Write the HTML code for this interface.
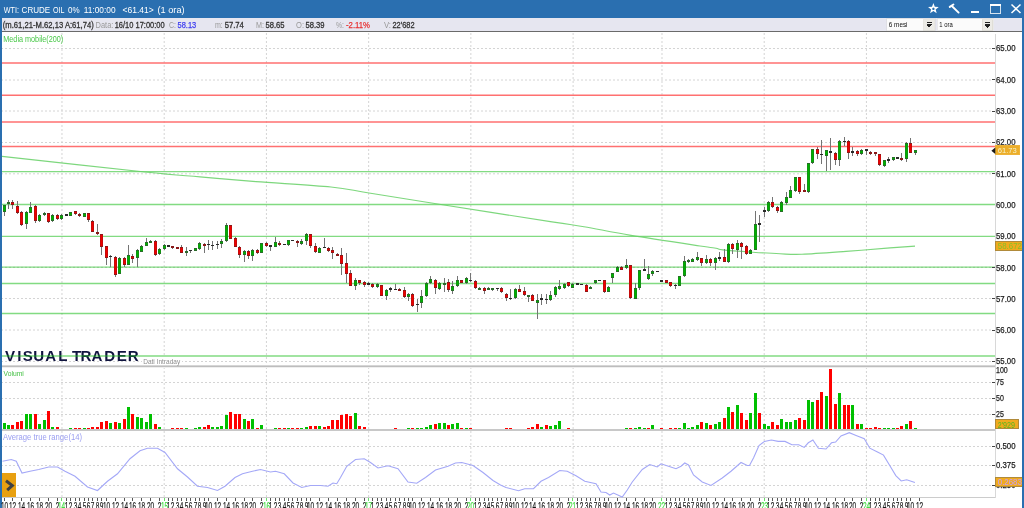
<!DOCTYPE html>
<html><head><meta charset="utf-8"><title>WTI CRUDE OIL - Visual Trader</title>
<style>
html,body{margin:0;padding:0;background:#fff;}
body{width:1024px;height:508px;overflow:hidden;}
svg{display:block;font-family:"Liberation Sans",Arial,sans-serif;}
</style></head><body>
<svg width="1024" height="508" viewBox="0 0 1024 508" shape-rendering="crispEdges">
<rect x="0" y="0" width="1024" height="508" fill="#2a6fb0"/>
<rect x="2" y="18" width="1020" height="490" fill="#ffffff"/>
<rect x="2" y="18" width="1020" height="13" fill="#e6e6f0"/>
<rect x="2" y="31" width="1020" height="1" fill="#6a6a6a"/>
<g shape-rendering="geometricPrecision">
<line x1="61.98" y1="33" x2="61.98" y2="365" stroke="#d4d4d4" stroke-width="1" stroke-dasharray="2,2"/>
<line x1="61.98" y1="367" x2="61.98" y2="429" stroke="#d4d4d4" stroke-width="1" stroke-dasharray="2,2"/>
<line x1="61.98" y1="431" x2="61.98" y2="497" stroke="#d4d4d4" stroke-width="1" stroke-dasharray="2,2"/>
</g>
<g shape-rendering="geometricPrecision">
<line x1="164.2" y1="33" x2="164.2" y2="365" stroke="#d4d4d4" stroke-width="1" stroke-dasharray="2,2"/>
<line x1="164.2" y1="367" x2="164.2" y2="429" stroke="#d4d4d4" stroke-width="1" stroke-dasharray="2,2"/>
<line x1="164.2" y1="431" x2="164.2" y2="497" stroke="#d4d4d4" stroke-width="1" stroke-dasharray="2,2"/>
</g>
<g shape-rendering="geometricPrecision">
<line x1="266.43" y1="33" x2="266.43" y2="365" stroke="#d4d4d4" stroke-width="1" stroke-dasharray="2,2"/>
<line x1="266.43" y1="367" x2="266.43" y2="429" stroke="#d4d4d4" stroke-width="1" stroke-dasharray="2,2"/>
<line x1="266.43" y1="431" x2="266.43" y2="497" stroke="#d4d4d4" stroke-width="1" stroke-dasharray="2,2"/>
</g>
<g shape-rendering="geometricPrecision">
<line x1="368.65" y1="33" x2="368.65" y2="365" stroke="#d4d4d4" stroke-width="1" stroke-dasharray="2,2"/>
<line x1="368.65" y1="367" x2="368.65" y2="429" stroke="#d4d4d4" stroke-width="1" stroke-dasharray="2,2"/>
<line x1="368.65" y1="431" x2="368.65" y2="497" stroke="#d4d4d4" stroke-width="1" stroke-dasharray="2,2"/>
</g>
<g shape-rendering="geometricPrecision">
<line x1="470.87" y1="33" x2="470.87" y2="365" stroke="#d4d4d4" stroke-width="1" stroke-dasharray="2,2"/>
<line x1="470.87" y1="367" x2="470.87" y2="429" stroke="#d4d4d4" stroke-width="1" stroke-dasharray="2,2"/>
<line x1="470.87" y1="431" x2="470.87" y2="497" stroke="#d4d4d4" stroke-width="1" stroke-dasharray="2,2"/>
</g>
<g shape-rendering="geometricPrecision">
<line x1="573.1" y1="33" x2="573.1" y2="365" stroke="#d4d4d4" stroke-width="1" stroke-dasharray="2,2"/>
<line x1="573.1" y1="367" x2="573.1" y2="429" stroke="#d4d4d4" stroke-width="1" stroke-dasharray="2,2"/>
<line x1="573.1" y1="431" x2="573.1" y2="497" stroke="#d4d4d4" stroke-width="1" stroke-dasharray="2,2"/>
</g>
<g shape-rendering="geometricPrecision">
<line x1="661.99" y1="33" x2="661.99" y2="365" stroke="#d4d4d4" stroke-width="1" stroke-dasharray="2,2"/>
<line x1="661.99" y1="367" x2="661.99" y2="429" stroke="#d4d4d4" stroke-width="1" stroke-dasharray="2,2"/>
<line x1="661.99" y1="431" x2="661.99" y2="497" stroke="#d4d4d4" stroke-width="1" stroke-dasharray="2,2"/>
</g>
<g shape-rendering="geometricPrecision">
<line x1="764.21" y1="33" x2="764.21" y2="365" stroke="#d4d4d4" stroke-width="1" stroke-dasharray="2,2"/>
<line x1="764.21" y1="367" x2="764.21" y2="429" stroke="#d4d4d4" stroke-width="1" stroke-dasharray="2,2"/>
<line x1="764.21" y1="431" x2="764.21" y2="497" stroke="#d4d4d4" stroke-width="1" stroke-dasharray="2,2"/>
</g>
<g shape-rendering="geometricPrecision">
<line x1="866.43" y1="33" x2="866.43" y2="365" stroke="#d4d4d4" stroke-width="1" stroke-dasharray="2,2"/>
<line x1="866.43" y1="367" x2="866.43" y2="429" stroke="#d4d4d4" stroke-width="1" stroke-dasharray="2,2"/>
<line x1="866.43" y1="431" x2="866.43" y2="497" stroke="#d4d4d4" stroke-width="1" stroke-dasharray="2,2"/>
</g>
<line x1="2" y1="48.5" x2="992" y2="48.5" stroke="#d4d4d4" stroke-width="1" stroke-dasharray="2,2" stroke-dashoffset="1" shape-rendering="geometricPrecision"/>
<line x1="2" y1="80.0" x2="992" y2="80.0" stroke="#d4d4d4" stroke-width="1" stroke-dasharray="2,2" stroke-dashoffset="1" shape-rendering="geometricPrecision"/>
<line x1="2" y1="111.0" x2="992" y2="111.0" stroke="#d4d4d4" stroke-width="1" stroke-dasharray="2,2" stroke-dashoffset="1" shape-rendering="geometricPrecision"/>
<line x1="2" y1="142.5" x2="992" y2="142.5" stroke="#d4d4d4" stroke-width="1" stroke-dasharray="2,2" stroke-dashoffset="1" shape-rendering="geometricPrecision"/>
<line x1="2" y1="173.8" x2="992" y2="173.8" stroke="#d4d4d4" stroke-width="1" stroke-dasharray="2,2" stroke-dashoffset="1" shape-rendering="geometricPrecision"/>
<line x1="2" y1="267.3" x2="992" y2="267.3" stroke="#d4d4d4" stroke-width="1" stroke-dasharray="2,2" stroke-dashoffset="1" shape-rendering="geometricPrecision"/>
<line x1="2" y1="298.5" x2="992" y2="298.5" stroke="#d4d4d4" stroke-width="1" stroke-dasharray="2,2" stroke-dashoffset="1" shape-rendering="geometricPrecision"/>
<line x1="2" y1="330.0" x2="992" y2="330.0" stroke="#d4d4d4" stroke-width="1" stroke-dasharray="2,2" stroke-dashoffset="1" shape-rendering="geometricPrecision"/>
<line x1="2" y1="361.5" x2="992" y2="361.5" stroke="#d4d4d4" stroke-width="1" stroke-dasharray="2,2" stroke-dashoffset="1" shape-rendering="geometricPrecision"/>
<line x1="2" y1="382.5" x2="992" y2="382.5" stroke="#d4d4d4" stroke-width="1" stroke-dasharray="2,2" stroke-dashoffset="1"/>
<line x1="2" y1="398.5" x2="992" y2="398.5" stroke="#d4d4d4" stroke-width="1" stroke-dasharray="2,2" stroke-dashoffset="1"/>
<line x1="2" y1="414.5" x2="992" y2="414.5" stroke="#d4d4d4" stroke-width="1" stroke-dasharray="2,2" stroke-dashoffset="1"/>
<line x1="2" y1="446.5" x2="992" y2="446.5" stroke="#d4d4d4" stroke-width="1" stroke-dasharray="2,2" stroke-dashoffset="1"/>
<line x1="2" y1="465.5" x2="992" y2="465.5" stroke="#d4d4d4" stroke-width="1" stroke-dasharray="2,2" stroke-dashoffset="1"/>
<line x1="2" y1="485.5" x2="992" y2="485.5" stroke="#d4d4d4" stroke-width="1" stroke-dasharray="2,2" stroke-dashoffset="1"/>
<text x="5.0 17.3 22.8 33.3 45.3 58.3 67 71.9 80.5 91.4 104.3 116.8 127.7" y="361.1" font-size="15.1" font-weight="bold" fill="#10143f">VISUAL TRADER</text>
<line x1="2" y1="63.0" x2="995" y2="63.0" stroke="#ff7070" stroke-width="1.4" shape-rendering="geometricPrecision"/>
<line x1="2" y1="95.3" x2="995" y2="95.3" stroke="#ff7070" stroke-width="1.4" shape-rendering="geometricPrecision"/>
<line x1="2" y1="122.0" x2="995" y2="122.0" stroke="#ff7070" stroke-width="1.4" shape-rendering="geometricPrecision"/>
<line x1="2" y1="146.5" x2="995" y2="146.5" stroke="#ff7070" stroke-width="1.4" shape-rendering="geometricPrecision"/>
<line x1="2" y1="171.6" x2="995" y2="171.6" stroke="#1cbe1c" stroke-opacity="0.55" stroke-width="1.3" shape-rendering="geometricPrecision"/>
<line x1="2" y1="204.5" x2="995" y2="204.5" stroke="#1cbe1c" stroke-opacity="0.55" stroke-width="1.3" shape-rendering="geometricPrecision"/>
<line x1="2" y1="236.3" x2="995" y2="236.3" stroke="#1cbe1c" stroke-opacity="0.55" stroke-width="1.3" shape-rendering="geometricPrecision"/>
<line x1="2" y1="267.2" x2="995" y2="267.2" stroke="#1cbe1c" stroke-opacity="0.55" stroke-width="1.3" shape-rendering="geometricPrecision"/>
<line x1="2" y1="283.5" x2="995" y2="283.5" stroke="#1cbe1c" stroke-opacity="0.55" stroke-width="1.3" shape-rendering="geometricPrecision"/>
<line x1="2" y1="313.5" x2="995" y2="313.5" stroke="#1cbe1c" stroke-opacity="0.55" stroke-width="1.3" shape-rendering="geometricPrecision"/>
<line x1="2" y1="356.0" x2="995" y2="356.0" stroke="#1cbe1c" stroke-opacity="0.55" stroke-width="1.3" shape-rendering="geometricPrecision"/>
<path d="M2.00,156.40 C25.83,159.00 112.00,168.58 145.00,172.00 C178.00,175.42 181.50,175.30 200.00,176.90 C218.50,178.50 234.17,179.92 256.00,181.60 C277.83,183.28 312.17,185.10 331.00,187.00 C349.83,188.90 350.17,190.00 369.00,193.00 C387.83,196.00 413.50,200.18 444.00,205.00 C474.50,209.82 528.67,218.28 552.00,221.90 C575.33,225.53 570.83,224.50 584.00,226.75 C597.17,229.00 611.67,232.19 631.00,235.40 C650.33,238.61 685.83,243.87 700.00,246.00 C714.17,248.13 712.17,247.55 716.00,248.20 C719.83,248.85 716.83,249.23 723.00,249.90 C729.17,250.57 743.50,251.55 753.00,252.20 C762.50,252.85 771.83,253.45 780.00,253.80 C788.17,254.15 791.00,254.70 802.00,254.30 C813.00,253.90 831.33,252.47 846.00,251.40 C860.67,250.33 878.50,248.78 890.00,247.90 C901.50,247.02 910.83,246.40 915.00,246.10" fill="none" stroke="#66d066" stroke-width="1.1" stroke-opacity="0.85" shape-rendering="geometricPrecision"/>
<rect x="4" y="204.63" width="1" height="11.63" fill="#747474"/>
<rect x="3" y="205" width="3" height="7" fill="#2a6a2a"/>
<rect x="3" y="206" width="3" height="5" fill="#00b000"/>
<rect x="3" y="206" width="1" height="5" fill="#2a6a2a" opacity="0.4"/>
<rect x="5" y="206" width="1" height="5" fill="#2a6a2a" opacity="0.4"/>
<rect x="8" y="200.31" width="1" height="8.44" fill="#747474"/>
<rect x="7" y="202" width="3" height="2" fill="#2a6a2a"/>
<rect x="12" y="200.31" width="1" height="8.44" fill="#747474"/>
<rect x="11" y="202" width="3" height="3" fill="#8a1818"/>
<rect x="11" y="203" width="3" height="1" fill="#ee0000"/>
<rect x="11" y="203" width="1" height="1" fill="#8a1818" opacity="0.4"/>
<rect x="13" y="203" width="1" height="1" fill="#8a1818" opacity="0.4"/>
<rect x="17" y="201.25" width="1" height="13.13" fill="#747474"/>
<rect x="16" y="206" width="3" height="7" fill="#8a1818"/>
<rect x="16" y="207" width="3" height="5" fill="#ee0000"/>
<rect x="16" y="207" width="1" height="5" fill="#8a1818" opacity="0.4"/>
<rect x="18" y="207" width="1" height="5" fill="#8a1818" opacity="0.4"/>
<rect x="21" y="210.63" width="1" height="15.38" fill="#747474"/>
<rect x="20" y="212" width="3" height="13" fill="#8a1818"/>
<rect x="20" y="213" width="3" height="11" fill="#ee0000"/>
<rect x="20" y="213" width="1" height="11" fill="#8a1818" opacity="0.4"/>
<rect x="22" y="213" width="1" height="11" fill="#8a1818" opacity="0.4"/>
<rect x="26" y="210.63" width="1" height="18.75" fill="#747474"/>
<rect x="25" y="212" width="3" height="12" fill="#2a6a2a"/>
<rect x="25" y="213" width="3" height="10" fill="#00b000"/>
<rect x="25" y="213" width="1" height="10" fill="#2a6a2a" opacity="0.4"/>
<rect x="27" y="213" width="1" height="10" fill="#2a6a2a" opacity="0.4"/>
<rect x="30" y="201.63" width="1" height="11.81" fill="#747474"/>
<rect x="29" y="207" width="3" height="6" fill="#2a6a2a"/>
<rect x="29" y="208" width="3" height="4" fill="#00b000"/>
<rect x="29" y="208" width="1" height="4" fill="#2a6a2a" opacity="0.4"/>
<rect x="31" y="208" width="1" height="4" fill="#2a6a2a" opacity="0.4"/>
<rect x="35" y="205" width="1" height="17.81" fill="#747474"/>
<rect x="34" y="206" width="3" height="15" fill="#8a1818"/>
<rect x="34" y="207" width="3" height="13" fill="#ee0000"/>
<rect x="34" y="207" width="1" height="13" fill="#8a1818" opacity="0.4"/>
<rect x="36" y="207" width="1" height="13" fill="#8a1818" opacity="0.4"/>
<rect x="39" y="214" width="1" height="7.5" fill="#747474"/>
<rect x="38" y="215" width="3" height="6" fill="#2a6a2a"/>
<rect x="38" y="216" width="3" height="4" fill="#00b000"/>
<rect x="38" y="216" width="1" height="4" fill="#2a6a2a" opacity="0.4"/>
<rect x="40" y="216" width="1" height="4" fill="#2a6a2a" opacity="0.4"/>
<rect x="44" y="211.56" width="1" height="4.69" fill="#747474"/>
<rect x="43" y="213" width="3" height="2" fill="#2a6a2a"/>
<rect x="48" y="212.5" width="1" height="10.31" fill="#747474"/>
<rect x="47" y="213" width="3" height="9" fill="#8a1818"/>
<rect x="47" y="214" width="3" height="7" fill="#ee0000"/>
<rect x="47" y="214" width="1" height="7" fill="#8a1818" opacity="0.4"/>
<rect x="49" y="214" width="1" height="7" fill="#8a1818" opacity="0.4"/>
<rect x="52" y="214.38" width="1" height="7.13" fill="#747474"/>
<rect x="51" y="215" width="3" height="6" fill="#2a6a2a"/>
<rect x="51" y="216" width="3" height="4" fill="#00b000"/>
<rect x="51" y="216" width="1" height="4" fill="#2a6a2a" opacity="0.4"/>
<rect x="53" y="216" width="1" height="4" fill="#2a6a2a" opacity="0.4"/>
<rect x="57" y="214.38" width="1" height="5.63" fill="#747474"/>
<rect x="56" y="215" width="3" height="4" fill="#8a1818"/>
<rect x="56" y="216" width="3" height="2" fill="#ee0000"/>
<rect x="56" y="216" width="1" height="2" fill="#8a1818" opacity="0.4"/>
<rect x="58" y="216" width="1" height="2" fill="#8a1818" opacity="0.4"/>
<rect x="61" y="214" width="1" height="5.63" fill="#747474"/>
<rect x="60" y="215" width="3" height="4" fill="#2a6a2a"/>
<rect x="60" y="216" width="3" height="2" fill="#00b000"/>
<rect x="60" y="216" width="1" height="2" fill="#2a6a2a" opacity="0.4"/>
<rect x="62" y="216" width="1" height="2" fill="#2a6a2a" opacity="0.4"/>
<rect x="66" y="214.38" width="1" height="1.5" fill="#747474"/>
<rect x="65" y="214.47" width="3" height="1.5" fill="#2a2a2a"/>
<rect x="70" y="211.56" width="1" height="4.69" fill="#747474"/>
<rect x="69" y="212" width="3" height="4" fill="#2a6a2a"/>
<rect x="69" y="213" width="3" height="2" fill="#00b000"/>
<rect x="69" y="213" width="1" height="2" fill="#2a6a2a" opacity="0.4"/>
<rect x="71" y="213" width="1" height="2" fill="#2a6a2a" opacity="0.4"/>
<rect x="75" y="210.63" width="1" height="4.31" fill="#747474"/>
<rect x="74" y="211" width="3" height="3" fill="#8a1818"/>
<rect x="74" y="212" width="3" height="1" fill="#ee0000"/>
<rect x="74" y="212" width="1" height="1" fill="#8a1818" opacity="0.4"/>
<rect x="76" y="212" width="1" height="1" fill="#8a1818" opacity="0.4"/>
<rect x="79" y="213.25" width="1" height="3.38" fill="#747474"/>
<rect x="78" y="214" width="3" height="2" fill="#8a1818"/>
<rect x="84" y="212.88" width="1" height="4.13" fill="#747474"/>
<rect x="83" y="213" width="3" height="4" fill="#2a6a2a"/>
<rect x="83" y="214" width="3" height="2" fill="#00b000"/>
<rect x="83" y="214" width="1" height="2" fill="#2a6a2a" opacity="0.4"/>
<rect x="85" y="214" width="1" height="2" fill="#2a6a2a" opacity="0.4"/>
<rect x="88" y="212.5" width="1" height="9.75" fill="#747474"/>
<rect x="87" y="213" width="3" height="7" fill="#8a1818"/>
<rect x="87" y="214" width="3" height="5" fill="#ee0000"/>
<rect x="87" y="214" width="1" height="5" fill="#8a1818" opacity="0.4"/>
<rect x="89" y="214" width="1" height="5" fill="#8a1818" opacity="0.4"/>
<rect x="92" y="220" width="1" height="12.19" fill="#747474"/>
<rect x="91" y="221" width="3" height="11" fill="#8a1818"/>
<rect x="91" y="222" width="3" height="9" fill="#ee0000"/>
<rect x="91" y="222" width="1" height="9" fill="#8a1818" opacity="0.4"/>
<rect x="93" y="222" width="1" height="9" fill="#8a1818" opacity="0.4"/>
<rect x="97" y="224.13" width="1" height="11.25" fill="#747474"/>
<rect x="96" y="232" width="3" height="2" fill="#8a1818"/>
<rect x="101" y="233.5" width="1" height="21.19" fill="#747474"/>
<rect x="100" y="234" width="3" height="13" fill="#8a1818"/>
<rect x="100" y="235" width="3" height="11" fill="#ee0000"/>
<rect x="100" y="235" width="1" height="11" fill="#8a1818" opacity="0.4"/>
<rect x="102" y="235" width="1" height="11" fill="#8a1818" opacity="0.4"/>
<rect x="106" y="245.88" width="1" height="19.13" fill="#747474"/>
<rect x="105" y="246" width="3" height="12" fill="#8a1818"/>
<rect x="105" y="247" width="3" height="10" fill="#ee0000"/>
<rect x="105" y="247" width="1" height="10" fill="#8a1818" opacity="0.4"/>
<rect x="107" y="247" width="1" height="10" fill="#8a1818" opacity="0.4"/>
<rect x="110" y="255.25" width="1" height="11.25" fill="#747474"/>
<rect x="109" y="255.82" width="3" height="1.5" fill="#2a2a2a"/>
<rect x="115" y="255.63" width="1" height="21.56" fill="#747474"/>
<rect x="114" y="257" width="3" height="18" fill="#8a1818"/>
<rect x="114" y="258" width="3" height="16" fill="#ee0000"/>
<rect x="114" y="258" width="1" height="16" fill="#8a1818" opacity="0.4"/>
<rect x="116" y="258" width="1" height="16" fill="#8a1818" opacity="0.4"/>
<rect x="119" y="256.57" width="1" height="17.81" fill="#747474"/>
<rect x="118" y="258" width="3" height="16" fill="#2a6a2a"/>
<rect x="118" y="259" width="3" height="14" fill="#00b000"/>
<rect x="118" y="259" width="1" height="14" fill="#2a6a2a" opacity="0.4"/>
<rect x="120" y="259" width="1" height="14" fill="#2a6a2a" opacity="0.4"/>
<rect x="124" y="256.57" width="1" height="10.31" fill="#747474"/>
<rect x="123" y="258" width="3" height="7" fill="#8a1818"/>
<rect x="123" y="259" width="3" height="5" fill="#ee0000"/>
<rect x="123" y="259" width="1" height="5" fill="#8a1818" opacity="0.4"/>
<rect x="125" y="259" width="1" height="5" fill="#8a1818" opacity="0.4"/>
<rect x="128" y="244.75" width="1" height="20.25" fill="#747474"/>
<rect x="127" y="255" width="3" height="10" fill="#2a6a2a"/>
<rect x="127" y="256" width="3" height="8" fill="#00b000"/>
<rect x="127" y="256" width="1" height="8" fill="#2a6a2a" opacity="0.4"/>
<rect x="129" y="256" width="1" height="8" fill="#2a6a2a" opacity="0.4"/>
<rect x="132" y="253.75" width="1" height="9.38" fill="#747474"/>
<rect x="131" y="256" width="3" height="3" fill="#8a1818"/>
<rect x="131" y="257" width="3" height="1" fill="#ee0000"/>
<rect x="131" y="257" width="1" height="1" fill="#8a1818" opacity="0.4"/>
<rect x="133" y="257" width="1" height="1" fill="#8a1818" opacity="0.4"/>
<rect x="137" y="249.07" width="1" height="17.81" fill="#747474"/>
<rect x="136" y="250" width="3" height="8" fill="#2a6a2a"/>
<rect x="136" y="251" width="3" height="6" fill="#00b000"/>
<rect x="136" y="251" width="1" height="6" fill="#2a6a2a" opacity="0.4"/>
<rect x="138" y="251" width="1" height="6" fill="#2a6a2a" opacity="0.4"/>
<rect x="141" y="244.75" width="1" height="7.5" fill="#747474"/>
<rect x="140" y="246" width="3" height="6" fill="#2a6a2a"/>
<rect x="140" y="247" width="3" height="4" fill="#00b000"/>
<rect x="140" y="247" width="1" height="4" fill="#2a6a2a" opacity="0.4"/>
<rect x="142" y="247" width="1" height="4" fill="#2a6a2a" opacity="0.4"/>
<rect x="146" y="237.82" width="1" height="8.44" fill="#747474"/>
<rect x="145" y="242" width="3" height="4" fill="#2a6a2a"/>
<rect x="145" y="243" width="3" height="2" fill="#00b000"/>
<rect x="145" y="243" width="1" height="2" fill="#2a6a2a" opacity="0.4"/>
<rect x="147" y="243" width="1" height="2" fill="#2a6a2a" opacity="0.4"/>
<rect x="150" y="240.25" width="1" height="2.63" fill="#747474"/>
<rect x="149" y="241" width="3" height="2" fill="#2a6a2a"/>
<rect x="155" y="240.25" width="1" height="15.75" fill="#747474"/>
<rect x="154" y="241" width="3" height="14" fill="#8a1818"/>
<rect x="154" y="242" width="3" height="12" fill="#ee0000"/>
<rect x="154" y="242" width="1" height="12" fill="#8a1818" opacity="0.4"/>
<rect x="156" y="242" width="1" height="12" fill="#8a1818" opacity="0.4"/>
<rect x="159" y="248.13" width="1" height="6.56" fill="#747474"/>
<rect x="158" y="249" width="3" height="5" fill="#2a6a2a"/>
<rect x="158" y="250" width="3" height="3" fill="#00b000"/>
<rect x="158" y="250" width="1" height="3" fill="#2a6a2a" opacity="0.4"/>
<rect x="160" y="250" width="1" height="3" fill="#2a6a2a" opacity="0.4"/>
<rect x="164" y="244.38" width="1" height="5.25" fill="#747474"/>
<rect x="163" y="245" width="3" height="4" fill="#2a6a2a"/>
<rect x="163" y="246" width="3" height="2" fill="#00b000"/>
<rect x="163" y="246" width="1" height="2" fill="#2a6a2a" opacity="0.4"/>
<rect x="165" y="246" width="1" height="2" fill="#2a6a2a" opacity="0.4"/>
<rect x="168" y="245.13" width="1" height="1.5" fill="#747474"/>
<rect x="167" y="245.13" width="3" height="1.5" fill="#2a2a2a"/>
<rect x="172" y="245.88" width="1" height="2.63" fill="#747474"/>
<rect x="171" y="246" width="3" height="2" fill="#8a1818"/>
<rect x="177" y="247" width="1" height="1.88" fill="#747474"/>
<rect x="176" y="247" width="3" height="2" fill="#8a1818"/>
<rect x="181" y="245.32" width="1" height="8.06" fill="#747474"/>
<rect x="180" y="247" width="3" height="6" fill="#8a1818"/>
<rect x="180" y="248" width="3" height="4" fill="#ee0000"/>
<rect x="180" y="248" width="1" height="4" fill="#8a1818" opacity="0.4"/>
<rect x="182" y="248" width="1" height="4" fill="#8a1818" opacity="0.4"/>
<rect x="186" y="247.25" width="1" height="9" fill="#747474"/>
<rect x="185" y="251" width="3" height="2" fill="#2a6a2a"/>
<rect x="190" y="249.69" width="1" height="2.81" fill="#747474"/>
<rect x="189" y="249.88" width="3" height="1.5" fill="#2a2a2a"/>
<rect x="195" y="247.81" width="1" height="3.38" fill="#747474"/>
<rect x="194" y="248" width="3" height="3" fill="#2a6a2a"/>
<rect x="194" y="249" width="3" height="1" fill="#00b000"/>
<rect x="194" y="249" width="1" height="1" fill="#2a6a2a" opacity="0.4"/>
<rect x="196" y="249" width="1" height="1" fill="#2a6a2a" opacity="0.4"/>
<rect x="199" y="241.81" width="1" height="7.88" fill="#747474"/>
<rect x="198" y="243" width="3" height="6" fill="#2a6a2a"/>
<rect x="198" y="244" width="3" height="4" fill="#00b000"/>
<rect x="198" y="244" width="1" height="4" fill="#2a6a2a" opacity="0.4"/>
<rect x="200" y="244" width="1" height="4" fill="#2a6a2a" opacity="0.4"/>
<rect x="204" y="243.13" width="1" height="9.38" fill="#747474"/>
<rect x="203" y="244" width="3" height="2" fill="#8a1818"/>
<rect x="208" y="239.94" width="1" height="9.75" fill="#747474"/>
<rect x="207" y="243.97" width="3" height="1.5" fill="#2a2a2a"/>
<rect x="212" y="241.25" width="1" height="8.44" fill="#747474"/>
<rect x="211" y="244.53" width="3" height="1.5" fill="#2a2a2a"/>
<rect x="217" y="241.25" width="1" height="7.5" fill="#747474"/>
<rect x="216" y="243.78" width="3" height="1.5" fill="#2a2a2a"/>
<rect x="221" y="239.38" width="1" height="8.44" fill="#747474"/>
<rect x="220" y="241" width="3" height="3" fill="#2a6a2a"/>
<rect x="220" y="242" width="3" height="1" fill="#00b000"/>
<rect x="220" y="242" width="1" height="1" fill="#2a6a2a" opacity="0.4"/>
<rect x="222" y="242" width="1" height="1" fill="#2a6a2a" opacity="0.4"/>
<rect x="226" y="223.44" width="1" height="18.75" fill="#747474"/>
<rect x="225" y="225" width="3" height="16" fill="#2a6a2a"/>
<rect x="225" y="226" width="3" height="14" fill="#00b000"/>
<rect x="225" y="226" width="1" height="14" fill="#2a6a2a" opacity="0.4"/>
<rect x="227" y="226" width="1" height="14" fill="#2a6a2a" opacity="0.4"/>
<rect x="230" y="224.75" width="1" height="14.63" fill="#747474"/>
<rect x="229" y="225" width="3" height="14" fill="#8a1818"/>
<rect x="229" y="226" width="3" height="12" fill="#ee0000"/>
<rect x="229" y="226" width="1" height="12" fill="#8a1818" opacity="0.4"/>
<rect x="231" y="226" width="1" height="12" fill="#8a1818" opacity="0.4"/>
<rect x="235" y="237.13" width="1" height="10.13" fill="#747474"/>
<rect x="234" y="238" width="3" height="9" fill="#8a1818"/>
<rect x="234" y="239" width="3" height="7" fill="#ee0000"/>
<rect x="234" y="239" width="1" height="7" fill="#8a1818" opacity="0.4"/>
<rect x="236" y="239" width="1" height="7" fill="#8a1818" opacity="0.4"/>
<rect x="239" y="245.94" width="1" height="12.19" fill="#747474"/>
<rect x="238" y="247" width="3" height="8" fill="#8a1818"/>
<rect x="238" y="248" width="3" height="6" fill="#ee0000"/>
<rect x="238" y="248" width="1" height="6" fill="#8a1818" opacity="0.4"/>
<rect x="240" y="248" width="1" height="6" fill="#8a1818" opacity="0.4"/>
<rect x="244" y="249.69" width="1" height="11.81" fill="#747474"/>
<rect x="243" y="251" width="3" height="4" fill="#2a6a2a"/>
<rect x="243" y="252" width="3" height="2" fill="#00b000"/>
<rect x="243" y="252" width="1" height="2" fill="#2a6a2a" opacity="0.4"/>
<rect x="245" y="252" width="1" height="2" fill="#2a6a2a" opacity="0.4"/>
<rect x="248" y="249.69" width="1" height="9.38" fill="#747474"/>
<rect x="247" y="251" width="3" height="5" fill="#8a1818"/>
<rect x="247" y="252" width="3" height="3" fill="#ee0000"/>
<rect x="247" y="252" width="1" height="3" fill="#8a1818" opacity="0.4"/>
<rect x="249" y="252" width="1" height="3" fill="#8a1818" opacity="0.4"/>
<rect x="252" y="249.13" width="1" height="11.81" fill="#747474"/>
<rect x="251" y="250" width="3" height="6" fill="#2a6a2a"/>
<rect x="251" y="251" width="3" height="4" fill="#00b000"/>
<rect x="251" y="251" width="1" height="4" fill="#2a6a2a" opacity="0.4"/>
<rect x="253" y="251" width="1" height="4" fill="#2a6a2a" opacity="0.4"/>
<rect x="257" y="248.75" width="1" height="5.25" fill="#747474"/>
<rect x="256" y="250" width="3" height="3" fill="#8a1818"/>
<rect x="256" y="251" width="3" height="1" fill="#ee0000"/>
<rect x="256" y="251" width="1" height="1" fill="#8a1818" opacity="0.4"/>
<rect x="258" y="251" width="1" height="1" fill="#8a1818" opacity="0.4"/>
<rect x="261" y="242.75" width="1" height="10.31" fill="#747474"/>
<rect x="260" y="243" width="3" height="10" fill="#2a6a2a"/>
<rect x="260" y="244" width="3" height="8" fill="#00b000"/>
<rect x="260" y="244" width="1" height="8" fill="#2a6a2a" opacity="0.4"/>
<rect x="262" y="244" width="1" height="8" fill="#2a6a2a" opacity="0.4"/>
<rect x="266" y="241.81" width="1" height="5.06" fill="#747474"/>
<rect x="265" y="243" width="3" height="3" fill="#8a1818"/>
<rect x="265" y="244" width="3" height="1" fill="#ee0000"/>
<rect x="265" y="244" width="1" height="1" fill="#8a1818" opacity="0.4"/>
<rect x="267" y="244" width="1" height="1" fill="#8a1818" opacity="0.4"/>
<rect x="270" y="245" width="1" height="5.63" fill="#747474"/>
<rect x="269" y="245.19" width="3" height="1.5" fill="#2a2a2a"/>
<rect x="275" y="236.56" width="1" height="10.31" fill="#747474"/>
<rect x="274" y="242" width="3" height="5" fill="#2a6a2a"/>
<rect x="274" y="243" width="3" height="3" fill="#00b000"/>
<rect x="274" y="243" width="1" height="3" fill="#2a6a2a" opacity="0.4"/>
<rect x="276" y="243" width="1" height="3" fill="#2a6a2a" opacity="0.4"/>
<rect x="279" y="240.88" width="1" height="5.06" fill="#747474"/>
<rect x="278" y="243" width="3" height="2" fill="#8a1818"/>
<rect x="284" y="244.06" width="1" height="1.31" fill="#747474"/>
<rect x="283" y="243.97" width="3" height="1.5" fill="#2a2a2a"/>
<rect x="288" y="239.75" width="1" height="6.19" fill="#747474"/>
<rect x="287" y="240" width="3" height="5" fill="#2a6a2a"/>
<rect x="287" y="241" width="3" height="3" fill="#00b000"/>
<rect x="287" y="241" width="1" height="3" fill="#2a6a2a" opacity="0.4"/>
<rect x="289" y="241" width="1" height="3" fill="#2a6a2a" opacity="0.4"/>
<rect x="292" y="239.94" width="1" height="1.31" fill="#747474"/>
<rect x="291" y="239.85" width="3" height="1.5" fill="#2a2a2a"/>
<rect x="297" y="240.31" width="1" height="6.19" fill="#747474"/>
<rect x="296" y="241" width="3" height="2" fill="#8a1818"/>
<rect x="301" y="239" width="1" height="6" fill="#747474"/>
<rect x="300" y="241" width="3" height="3" fill="#2a6a2a"/>
<rect x="300" y="242" width="3" height="1" fill="#00b000"/>
<rect x="300" y="242" width="1" height="1" fill="#2a6a2a" opacity="0.4"/>
<rect x="302" y="242" width="1" height="1" fill="#2a6a2a" opacity="0.4"/>
<rect x="306" y="233.38" width="1" height="11.63" fill="#747474"/>
<rect x="305" y="234" width="3" height="7" fill="#2a6a2a"/>
<rect x="305" y="235" width="3" height="5" fill="#00b000"/>
<rect x="305" y="235" width="1" height="5" fill="#2a6a2a" opacity="0.4"/>
<rect x="307" y="235" width="1" height="5" fill="#2a6a2a" opacity="0.4"/>
<rect x="310" y="233.75" width="1" height="14.63" fill="#747474"/>
<rect x="309" y="234" width="3" height="12" fill="#8a1818"/>
<rect x="309" y="235" width="3" height="10" fill="#ee0000"/>
<rect x="309" y="235" width="1" height="10" fill="#8a1818" opacity="0.4"/>
<rect x="311" y="235" width="1" height="10" fill="#8a1818" opacity="0.4"/>
<rect x="315" y="243.13" width="1" height="9.94" fill="#747474"/>
<rect x="314" y="246" width="3" height="6" fill="#8a1818"/>
<rect x="314" y="247" width="3" height="4" fill="#ee0000"/>
<rect x="314" y="247" width="1" height="4" fill="#8a1818" opacity="0.4"/>
<rect x="316" y="247" width="1" height="4" fill="#8a1818" opacity="0.4"/>
<rect x="319" y="247.25" width="1" height="5.81" fill="#747474"/>
<rect x="318" y="248" width="3" height="5" fill="#2a6a2a"/>
<rect x="318" y="249" width="3" height="3" fill="#00b000"/>
<rect x="318" y="249" width="1" height="3" fill="#2a6a2a" opacity="0.4"/>
<rect x="320" y="249" width="1" height="3" fill="#2a6a2a" opacity="0.4"/>
<rect x="324" y="238.44" width="1" height="9.94" fill="#747474"/>
<rect x="323" y="246.6" width="3" height="1.5" fill="#2a2a2a"/>
<rect x="328" y="246.88" width="1" height="4.69" fill="#747474"/>
<rect x="327" y="248" width="3" height="3" fill="#8a1818"/>
<rect x="327" y="249" width="3" height="1" fill="#ee0000"/>
<rect x="327" y="249" width="1" height="1" fill="#8a1818" opacity="0.4"/>
<rect x="329" y="249" width="1" height="1" fill="#8a1818" opacity="0.4"/>
<rect x="332" y="246.88" width="1" height="12.19" fill="#747474"/>
<rect x="331" y="250" width="3" height="3" fill="#8a1818"/>
<rect x="331" y="251" width="3" height="1" fill="#ee0000"/>
<rect x="331" y="251" width="1" height="1" fill="#8a1818" opacity="0.4"/>
<rect x="333" y="251" width="1" height="1" fill="#8a1818" opacity="0.4"/>
<rect x="337" y="253.44" width="1" height="2.81" fill="#747474"/>
<rect x="336" y="254" width="3" height="2" fill="#8a1818"/>
<rect x="341" y="247.81" width="1" height="27.19" fill="#747474"/>
<rect x="340" y="255" width="3" height="9" fill="#8a1818"/>
<rect x="340" y="256" width="3" height="7" fill="#ee0000"/>
<rect x="340" y="256" width="1" height="7" fill="#8a1818" opacity="0.4"/>
<rect x="342" y="256" width="1" height="7" fill="#8a1818" opacity="0.4"/>
<rect x="346" y="253.44" width="1" height="29.44" fill="#747474"/>
<rect x="345" y="263" width="3" height="11" fill="#8a1818"/>
<rect x="345" y="264" width="3" height="9" fill="#ee0000"/>
<rect x="345" y="264" width="1" height="9" fill="#8a1818" opacity="0.4"/>
<rect x="347" y="264" width="1" height="9" fill="#8a1818" opacity="0.4"/>
<rect x="350" y="270.32" width="1" height="15.94" fill="#747474"/>
<rect x="349" y="273" width="3" height="13" fill="#8a1818"/>
<rect x="349" y="274" width="3" height="11" fill="#ee0000"/>
<rect x="349" y="274" width="1" height="11" fill="#8a1818" opacity="0.4"/>
<rect x="351" y="274" width="1" height="11" fill="#8a1818" opacity="0.4"/>
<rect x="355" y="277.82" width="1" height="12.56" fill="#747474"/>
<rect x="354" y="280" width="3" height="6" fill="#2a6a2a"/>
<rect x="354" y="281" width="3" height="4" fill="#00b000"/>
<rect x="354" y="281" width="1" height="4" fill="#2a6a2a" opacity="0.4"/>
<rect x="356" y="281" width="1" height="4" fill="#2a6a2a" opacity="0.4"/>
<rect x="359" y="279.69" width="1" height="5.06" fill="#747474"/>
<rect x="358" y="280" width="3" height="3" fill="#8a1818"/>
<rect x="358" y="281" width="3" height="1" fill="#ee0000"/>
<rect x="358" y="281" width="1" height="1" fill="#8a1818" opacity="0.4"/>
<rect x="360" y="281" width="1" height="1" fill="#8a1818" opacity="0.4"/>
<rect x="364" y="280.63" width="1" height="6.56" fill="#747474"/>
<rect x="363" y="282" width="3" height="3" fill="#8a1818"/>
<rect x="363" y="283" width="3" height="1" fill="#ee0000"/>
<rect x="363" y="283" width="1" height="1" fill="#8a1818" opacity="0.4"/>
<rect x="365" y="283" width="1" height="1" fill="#8a1818" opacity="0.4"/>
<rect x="368" y="282.13" width="1" height="3.19" fill="#747474"/>
<rect x="367" y="283.16" width="3" height="1.5" fill="#2a2a2a"/>
<rect x="372" y="283.38" width="1" height="4.13" fill="#747474"/>
<rect x="371" y="284" width="3" height="3" fill="#8a1818"/>
<rect x="371" y="285" width="3" height="1" fill="#ee0000"/>
<rect x="371" y="285" width="1" height="1" fill="#8a1818" opacity="0.4"/>
<rect x="373" y="285" width="1" height="1" fill="#8a1818" opacity="0.4"/>
<rect x="377" y="283.38" width="1" height="4.69" fill="#747474"/>
<rect x="376" y="284" width="3" height="3" fill="#2a6a2a"/>
<rect x="376" y="285" width="3" height="1" fill="#00b000"/>
<rect x="376" y="285" width="1" height="1" fill="#2a6a2a" opacity="0.4"/>
<rect x="378" y="285" width="1" height="1" fill="#2a6a2a" opacity="0.4"/>
<rect x="381" y="284.69" width="1" height="11.25" fill="#747474"/>
<rect x="380" y="285" width="3" height="11" fill="#8a1818"/>
<rect x="380" y="286" width="3" height="9" fill="#ee0000"/>
<rect x="380" y="286" width="1" height="9" fill="#8a1818" opacity="0.4"/>
<rect x="382" y="286" width="1" height="9" fill="#8a1818" opacity="0.4"/>
<rect x="386" y="289.38" width="1" height="10.31" fill="#747474"/>
<rect x="385" y="290" width="3" height="6" fill="#2a6a2a"/>
<rect x="385" y="291" width="3" height="4" fill="#00b000"/>
<rect x="385" y="291" width="1" height="4" fill="#2a6a2a" opacity="0.4"/>
<rect x="387" y="291" width="1" height="4" fill="#2a6a2a" opacity="0.4"/>
<rect x="390" y="287.13" width="1" height="5.06" fill="#747474"/>
<rect x="389" y="288.35" width="3" height="1.5" fill="#2a2a2a"/>
<rect x="395" y="283.75" width="1" height="6.56" fill="#747474"/>
<rect x="394" y="288.53" width="3" height="1.5" fill="#2a2a2a"/>
<rect x="399" y="288.44" width="1" height="2.44" fill="#747474"/>
<rect x="398" y="289" width="3" height="2" fill="#8a1818"/>
<rect x="404" y="286.56" width="1" height="11.25" fill="#747474"/>
<rect x="403" y="290" width="3" height="7" fill="#8a1818"/>
<rect x="403" y="291" width="3" height="5" fill="#ee0000"/>
<rect x="403" y="291" width="1" height="5" fill="#8a1818" opacity="0.4"/>
<rect x="405" y="291" width="1" height="5" fill="#8a1818" opacity="0.4"/>
<rect x="408" y="292.75" width="1" height="7.88" fill="#747474"/>
<rect x="407" y="294" width="3" height="3" fill="#2a6a2a"/>
<rect x="407" y="295" width="3" height="1" fill="#00b000"/>
<rect x="407" y="295" width="1" height="1" fill="#2a6a2a" opacity="0.4"/>
<rect x="409" y="295" width="1" height="1" fill="#2a6a2a" opacity="0.4"/>
<rect x="412" y="293.13" width="1" height="14.06" fill="#747474"/>
<rect x="411" y="294" width="3" height="12" fill="#8a1818"/>
<rect x="411" y="295" width="3" height="10" fill="#ee0000"/>
<rect x="411" y="295" width="1" height="10" fill="#8a1818" opacity="0.4"/>
<rect x="413" y="295" width="1" height="10" fill="#8a1818" opacity="0.4"/>
<rect x="417" y="299.13" width="1" height="12.75" fill="#747474"/>
<rect x="416" y="303.63" width="3" height="1.5" fill="#2a2a2a"/>
<rect x="421" y="290.32" width="1" height="17.44" fill="#747474"/>
<rect x="420" y="296" width="3" height="7" fill="#2a6a2a"/>
<rect x="420" y="297" width="3" height="5" fill="#00b000"/>
<rect x="420" y="297" width="1" height="5" fill="#2a6a2a" opacity="0.4"/>
<rect x="422" y="297" width="1" height="5" fill="#2a6a2a" opacity="0.4"/>
<rect x="426" y="282.25" width="1" height="14.25" fill="#747474"/>
<rect x="425" y="283" width="3" height="13" fill="#2a6a2a"/>
<rect x="425" y="284" width="3" height="11" fill="#00b000"/>
<rect x="425" y="284" width="1" height="11" fill="#2a6a2a" opacity="0.4"/>
<rect x="427" y="284" width="1" height="11" fill="#2a6a2a" opacity="0.4"/>
<rect x="430" y="276.25" width="1" height="7.88" fill="#747474"/>
<rect x="429" y="279" width="3" height="4" fill="#2a6a2a"/>
<rect x="429" y="280" width="3" height="2" fill="#00b000"/>
<rect x="429" y="280" width="1" height="2" fill="#2a6a2a" opacity="0.4"/>
<rect x="431" y="280" width="1" height="2" fill="#2a6a2a" opacity="0.4"/>
<rect x="435" y="279.06" width="1" height="14.44" fill="#747474"/>
<rect x="434" y="280" width="3" height="8" fill="#8a1818"/>
<rect x="434" y="281" width="3" height="6" fill="#ee0000"/>
<rect x="434" y="281" width="1" height="6" fill="#8a1818" opacity="0.4"/>
<rect x="436" y="281" width="1" height="6" fill="#8a1818" opacity="0.4"/>
<rect x="439" y="281.88" width="1" height="8.44" fill="#747474"/>
<rect x="438" y="283" width="3" height="6" fill="#2a6a2a"/>
<rect x="438" y="284" width="3" height="4" fill="#00b000"/>
<rect x="438" y="284" width="1" height="4" fill="#2a6a2a" opacity="0.4"/>
<rect x="440" y="284" width="1" height="4" fill="#2a6a2a" opacity="0.4"/>
<rect x="444" y="278.13" width="1" height="13.5" fill="#747474"/>
<rect x="443" y="283" width="3" height="2" fill="#2a6a2a"/>
<rect x="448" y="279.06" width="1" height="12.56" fill="#747474"/>
<rect x="447" y="282" width="3" height="8" fill="#8a1818"/>
<rect x="447" y="283" width="3" height="6" fill="#ee0000"/>
<rect x="447" y="283" width="1" height="6" fill="#8a1818" opacity="0.4"/>
<rect x="449" y="283" width="1" height="6" fill="#8a1818" opacity="0.4"/>
<rect x="452" y="280.94" width="1" height="12.75" fill="#747474"/>
<rect x="451" y="286" width="3" height="5" fill="#2a6a2a"/>
<rect x="451" y="287" width="3" height="3" fill="#00b000"/>
<rect x="451" y="287" width="1" height="3" fill="#2a6a2a" opacity="0.4"/>
<rect x="453" y="287" width="1" height="3" fill="#2a6a2a" opacity="0.4"/>
<rect x="457" y="276.25" width="1" height="10.31" fill="#747474"/>
<rect x="456" y="280" width="3" height="6" fill="#2a6a2a"/>
<rect x="456" y="281" width="3" height="4" fill="#00b000"/>
<rect x="456" y="281" width="1" height="4" fill="#2a6a2a" opacity="0.4"/>
<rect x="458" y="281" width="1" height="4" fill="#2a6a2a" opacity="0.4"/>
<rect x="461" y="279.63" width="1" height="3.75" fill="#747474"/>
<rect x="460" y="280" width="3" height="3" fill="#8a1818"/>
<rect x="460" y="281" width="3" height="1" fill="#ee0000"/>
<rect x="460" y="281" width="1" height="1" fill="#8a1818" opacity="0.4"/>
<rect x="462" y="281" width="1" height="1" fill="#8a1818" opacity="0.4"/>
<rect x="466" y="276.81" width="1" height="6.94" fill="#747474"/>
<rect x="465" y="278" width="3" height="5" fill="#2a6a2a"/>
<rect x="465" y="279" width="3" height="3" fill="#00b000"/>
<rect x="465" y="279" width="1" height="3" fill="#2a6a2a" opacity="0.4"/>
<rect x="467" y="279" width="1" height="3" fill="#2a6a2a" opacity="0.4"/>
<rect x="470" y="273.44" width="1" height="8.44" fill="#747474"/>
<rect x="469" y="279.72" width="3" height="1.5" fill="#2a2a2a"/>
<rect x="475" y="280" width="1" height="9" fill="#747474"/>
<rect x="474" y="281" width="3" height="7" fill="#8a1818"/>
<rect x="474" y="282" width="3" height="5" fill="#ee0000"/>
<rect x="474" y="282" width="1" height="5" fill="#8a1818" opacity="0.4"/>
<rect x="476" y="282" width="1" height="5" fill="#8a1818" opacity="0.4"/>
<rect x="479" y="286.56" width="1" height="3.19" fill="#747474"/>
<rect x="478" y="288" width="3" height="2" fill="#2a6a2a"/>
<rect x="484" y="286.56" width="1" height="6.94" fill="#747474"/>
<rect x="483" y="288" width="3" height="3" fill="#8a1818"/>
<rect x="483" y="289" width="3" height="1" fill="#ee0000"/>
<rect x="483" y="289" width="1" height="1" fill="#8a1818" opacity="0.4"/>
<rect x="485" y="289" width="1" height="1" fill="#8a1818" opacity="0.4"/>
<rect x="488" y="287.13" width="1" height="1.69" fill="#747474"/>
<rect x="487" y="288" width="3" height="2" fill="#2a6a2a"/>
<rect x="492" y="288.06" width="1" height="2.63" fill="#747474"/>
<rect x="491" y="288" width="3" height="2" fill="#2a6a2a"/>
<rect x="497" y="288.06" width="1" height="2.63" fill="#747474"/>
<rect x="496" y="287.69" width="3" height="1.5" fill="#2a2a2a"/>
<rect x="501" y="287.13" width="1" height="5.63" fill="#747474"/>
<rect x="500" y="288" width="3" height="4" fill="#8a1818"/>
<rect x="500" y="289" width="3" height="2" fill="#ee0000"/>
<rect x="500" y="289" width="1" height="2" fill="#8a1818" opacity="0.4"/>
<rect x="502" y="289" width="1" height="2" fill="#8a1818" opacity="0.4"/>
<rect x="506" y="293.13" width="1" height="7.5" fill="#747474"/>
<rect x="505" y="294" width="3" height="4" fill="#8a1818"/>
<rect x="505" y="295" width="3" height="2" fill="#ee0000"/>
<rect x="505" y="295" width="1" height="2" fill="#8a1818" opacity="0.4"/>
<rect x="507" y="295" width="1" height="2" fill="#8a1818" opacity="0.4"/>
<rect x="510" y="289.38" width="1" height="10.31" fill="#747474"/>
<rect x="509" y="297.53" width="3" height="1.5" fill="#2a2a2a"/>
<rect x="515" y="288.44" width="1" height="10.31" fill="#747474"/>
<rect x="514" y="289" width="3" height="9" fill="#2a6a2a"/>
<rect x="514" y="290" width="3" height="7" fill="#00b000"/>
<rect x="514" y="290" width="1" height="7" fill="#2a6a2a" opacity="0.4"/>
<rect x="516" y="290" width="1" height="7" fill="#2a6a2a" opacity="0.4"/>
<rect x="519" y="285.25" width="1" height="6.94" fill="#747474"/>
<rect x="518" y="289" width="3" height="3" fill="#8a1818"/>
<rect x="518" y="290" width="3" height="1" fill="#ee0000"/>
<rect x="518" y="290" width="1" height="1" fill="#8a1818" opacity="0.4"/>
<rect x="520" y="290" width="1" height="1" fill="#8a1818" opacity="0.4"/>
<rect x="524" y="286.56" width="1" height="9.38" fill="#747474"/>
<rect x="523" y="291" width="3" height="4" fill="#8a1818"/>
<rect x="523" y="292" width="3" height="2" fill="#ee0000"/>
<rect x="523" y="292" width="1" height="2" fill="#8a1818" opacity="0.4"/>
<rect x="525" y="292" width="1" height="2" fill="#8a1818" opacity="0.4"/>
<rect x="528" y="294.63" width="1" height="6.94" fill="#747474"/>
<rect x="527" y="295" width="3" height="2" fill="#2a6a2a"/>
<rect x="532" y="293.5" width="1" height="7.5" fill="#747474"/>
<rect x="531" y="295" width="3" height="6" fill="#8a1818"/>
<rect x="531" y="296" width="3" height="4" fill="#ee0000"/>
<rect x="531" y="296" width="1" height="4" fill="#8a1818" opacity="0.4"/>
<rect x="533" y="296" width="1" height="4" fill="#8a1818" opacity="0.4"/>
<rect x="537" y="294.07" width="1" height="25.31" fill="#747474"/>
<rect x="536" y="300" width="3" height="3" fill="#2a6a2a"/>
<rect x="536" y="301" width="3" height="1" fill="#00b000"/>
<rect x="536" y="301" width="1" height="1" fill="#2a6a2a" opacity="0.4"/>
<rect x="538" y="301" width="1" height="1" fill="#2a6a2a" opacity="0.4"/>
<rect x="541" y="294.07" width="1" height="11.25" fill="#747474"/>
<rect x="540" y="298" width="3" height="1.5" fill="#2a2a2a"/>
<rect x="546" y="294.44" width="1" height="9.94" fill="#747474"/>
<rect x="545" y="298.85" width="3" height="1.5" fill="#2a2a2a"/>
<rect x="550" y="291.25" width="1" height="9.75" fill="#747474"/>
<rect x="549" y="295" width="3" height="5" fill="#2a6a2a"/>
<rect x="549" y="296" width="3" height="3" fill="#00b000"/>
<rect x="549" y="296" width="1" height="3" fill="#2a6a2a" opacity="0.4"/>
<rect x="551" y="296" width="1" height="3" fill="#2a6a2a" opacity="0.4"/>
<rect x="555" y="285.63" width="1" height="11.25" fill="#747474"/>
<rect x="554" y="287" width="3" height="8" fill="#2a6a2a"/>
<rect x="554" y="288" width="3" height="6" fill="#00b000"/>
<rect x="554" y="288" width="1" height="6" fill="#2a6a2a" opacity="0.4"/>
<rect x="556" y="288" width="1" height="6" fill="#2a6a2a" opacity="0.4"/>
<rect x="559" y="280.38" width="1" height="9.94" fill="#747474"/>
<rect x="558" y="286" width="3" height="3" fill="#2a6a2a"/>
<rect x="558" y="287" width="3" height="1" fill="#00b000"/>
<rect x="558" y="287" width="1" height="1" fill="#2a6a2a" opacity="0.4"/>
<rect x="560" y="287" width="1" height="1" fill="#2a6a2a" opacity="0.4"/>
<rect x="564" y="282.82" width="1" height="6.19" fill="#747474"/>
<rect x="563" y="284" width="3" height="4" fill="#2a6a2a"/>
<rect x="563" y="285" width="3" height="2" fill="#00b000"/>
<rect x="563" y="285" width="1" height="2" fill="#2a6a2a" opacity="0.4"/>
<rect x="565" y="285" width="1" height="2" fill="#2a6a2a" opacity="0.4"/>
<rect x="568" y="281.5" width="1" height="5.06" fill="#747474"/>
<rect x="567" y="282" width="3" height="4" fill="#8a1818"/>
<rect x="567" y="283" width="3" height="2" fill="#ee0000"/>
<rect x="567" y="283" width="1" height="2" fill="#8a1818" opacity="0.4"/>
<rect x="569" y="283" width="1" height="2" fill="#8a1818" opacity="0.4"/>
<rect x="572" y="283.38" width="1" height="4.5" fill="#747474"/>
<rect x="571" y="284" width="3" height="4" fill="#2a6a2a"/>
<rect x="571" y="285" width="3" height="2" fill="#00b000"/>
<rect x="571" y="285" width="1" height="2" fill="#2a6a2a" opacity="0.4"/>
<rect x="573" y="285" width="1" height="2" fill="#2a6a2a" opacity="0.4"/>
<rect x="577" y="283.38" width="1" height="1.5" fill="#747474"/>
<rect x="576" y="283.38" width="3" height="1.5" fill="#2a2a2a"/>
<rect x="581" y="283.75" width="1" height="1.5" fill="#747474"/>
<rect x="580" y="283.75" width="3" height="1.5" fill="#2a2a2a"/>
<rect x="586" y="284.32" width="1" height="7.88" fill="#747474"/>
<rect x="585" y="285" width="3" height="7" fill="#8a1818"/>
<rect x="585" y="286" width="3" height="5" fill="#ee0000"/>
<rect x="585" y="286" width="1" height="5" fill="#8a1818" opacity="0.4"/>
<rect x="587" y="286" width="1" height="5" fill="#8a1818" opacity="0.4"/>
<rect x="590" y="286" width="1" height="3.38" fill="#747474"/>
<rect x="589" y="287" width="3" height="2" fill="#2a6a2a"/>
<rect x="595" y="279.63" width="1" height="4.13" fill="#747474"/>
<rect x="594" y="280" width="3" height="3" fill="#2a6a2a"/>
<rect x="594" y="281" width="3" height="1" fill="#00b000"/>
<rect x="594" y="281" width="1" height="1" fill="#2a6a2a" opacity="0.4"/>
<rect x="596" y="281" width="1" height="1" fill="#2a6a2a" opacity="0.4"/>
<rect x="599" y="279.63" width="1" height="1.5" fill="#747474"/>
<rect x="598" y="279.63" width="3" height="1.5" fill="#2a2a2a"/>
<rect x="604" y="280" width="1" height="12.75" fill="#747474"/>
<rect x="603" y="280" width="3" height="12" fill="#8a1818"/>
<rect x="603" y="281" width="3" height="10" fill="#ee0000"/>
<rect x="603" y="281" width="1" height="10" fill="#8a1818" opacity="0.4"/>
<rect x="605" y="281" width="1" height="10" fill="#8a1818" opacity="0.4"/>
<rect x="608" y="286" width="1" height="6.19" fill="#747474"/>
<rect x="607" y="287" width="3" height="5" fill="#2a6a2a"/>
<rect x="607" y="288" width="3" height="3" fill="#00b000"/>
<rect x="607" y="288" width="1" height="3" fill="#2a6a2a" opacity="0.4"/>
<rect x="609" y="288" width="1" height="3" fill="#2a6a2a" opacity="0.4"/>
<rect x="612" y="272.5" width="1" height="10.31" fill="#747474"/>
<rect x="611" y="273" width="3" height="5" fill="#2a6a2a"/>
<rect x="611" y="274" width="3" height="3" fill="#00b000"/>
<rect x="611" y="274" width="1" height="3" fill="#2a6a2a" opacity="0.4"/>
<rect x="613" y="274" width="1" height="3" fill="#2a6a2a" opacity="0.4"/>
<rect x="617" y="265.57" width="1" height="6.56" fill="#747474"/>
<rect x="616" y="267" width="3" height="5" fill="#2a6a2a"/>
<rect x="616" y="268" width="3" height="3" fill="#00b000"/>
<rect x="616" y="268" width="1" height="3" fill="#2a6a2a" opacity="0.4"/>
<rect x="618" y="268" width="1" height="3" fill="#2a6a2a" opacity="0.4"/>
<rect x="621" y="265.94" width="1" height="4.31" fill="#747474"/>
<rect x="620" y="267" width="3" height="3" fill="#8a1818"/>
<rect x="620" y="268" width="3" height="1" fill="#ee0000"/>
<rect x="620" y="268" width="1" height="1" fill="#8a1818" opacity="0.4"/>
<rect x="622" y="268" width="1" height="1" fill="#8a1818" opacity="0.4"/>
<rect x="626" y="259.38" width="1" height="9.38" fill="#747474"/>
<rect x="625" y="265" width="3" height="3" fill="#2a6a2a"/>
<rect x="625" y="266" width="3" height="1" fill="#00b000"/>
<rect x="625" y="266" width="1" height="1" fill="#2a6a2a" opacity="0.4"/>
<rect x="627" y="266" width="1" height="1" fill="#2a6a2a" opacity="0.4"/>
<rect x="630" y="264.63" width="1" height="34.13" fill="#747474"/>
<rect x="629" y="265" width="3" height="33" fill="#8a1818"/>
<rect x="629" y="266" width="3" height="31" fill="#ee0000"/>
<rect x="629" y="266" width="1" height="31" fill="#8a1818" opacity="0.4"/>
<rect x="631" y="266" width="1" height="31" fill="#8a1818" opacity="0.4"/>
<rect x="635" y="282.82" width="1" height="16.31" fill="#747474"/>
<rect x="634" y="288" width="3" height="11" fill="#2a6a2a"/>
<rect x="634" y="289" width="3" height="9" fill="#00b000"/>
<rect x="634" y="289" width="1" height="9" fill="#2a6a2a" opacity="0.4"/>
<rect x="636" y="289" width="1" height="9" fill="#2a6a2a" opacity="0.4"/>
<rect x="639" y="269.69" width="1" height="20.63" fill="#747474"/>
<rect x="638" y="270" width="3" height="18" fill="#2a6a2a"/>
<rect x="638" y="271" width="3" height="16" fill="#00b000"/>
<rect x="638" y="271" width="1" height="16" fill="#2a6a2a" opacity="0.4"/>
<rect x="640" y="271" width="1" height="16" fill="#2a6a2a" opacity="0.4"/>
<rect x="644" y="259.38" width="1" height="11.63" fill="#747474"/>
<rect x="643" y="269.41" width="3" height="1.5" fill="#2a2a2a"/>
<rect x="648" y="265.94" width="1" height="14.06" fill="#747474"/>
<rect x="647" y="274" width="3" height="5" fill="#2a6a2a"/>
<rect x="647" y="275" width="3" height="3" fill="#00b000"/>
<rect x="647" y="275" width="1" height="3" fill="#2a6a2a" opacity="0.4"/>
<rect x="649" y="275" width="1" height="3" fill="#2a6a2a" opacity="0.4"/>
<rect x="652" y="270.25" width="1" height="5.63" fill="#747474"/>
<rect x="651" y="271" width="3" height="3" fill="#2a6a2a"/>
<rect x="651" y="272" width="3" height="1" fill="#00b000"/>
<rect x="651" y="272" width="1" height="1" fill="#2a6a2a" opacity="0.4"/>
<rect x="653" y="272" width="1" height="1" fill="#2a6a2a" opacity="0.4"/>
<rect x="657" y="270.63" width="1" height="1.5" fill="#747474"/>
<rect x="656" y="270.63" width="3" height="1.5" fill="#2a2a2a"/>
<rect x="661" y="280" width="1" height="1.5" fill="#747474"/>
<rect x="660" y="280" width="3" height="1.5" fill="#2a2a2a"/>
<rect x="666" y="280" width="1" height="3.38" fill="#747474"/>
<rect x="665" y="280" width="3" height="3" fill="#8a1818"/>
<rect x="665" y="281" width="3" height="1" fill="#ee0000"/>
<rect x="665" y="281" width="1" height="1" fill="#8a1818" opacity="0.4"/>
<rect x="667" y="281" width="1" height="1" fill="#8a1818" opacity="0.4"/>
<rect x="670" y="281.5" width="1" height="5.06" fill="#747474"/>
<rect x="669" y="282" width="3" height="4" fill="#8a1818"/>
<rect x="669" y="283" width="3" height="2" fill="#ee0000"/>
<rect x="669" y="283" width="1" height="2" fill="#8a1818" opacity="0.4"/>
<rect x="671" y="283" width="1" height="2" fill="#8a1818" opacity="0.4"/>
<rect x="675" y="283.75" width="1" height="5.25" fill="#747474"/>
<rect x="674" y="284.88" width="3" height="1.5" fill="#2a2a2a"/>
<rect x="679" y="275.88" width="1" height="10.13" fill="#747474"/>
<rect x="678" y="276" width="3" height="10" fill="#2a6a2a"/>
<rect x="678" y="277" width="3" height="8" fill="#00b000"/>
<rect x="678" y="277" width="1" height="8" fill="#2a6a2a" opacity="0.4"/>
<rect x="680" y="277" width="1" height="8" fill="#2a6a2a" opacity="0.4"/>
<rect x="684" y="256" width="1" height="20.63" fill="#747474"/>
<rect x="683" y="261" width="3" height="15" fill="#2a6a2a"/>
<rect x="683" y="262" width="3" height="13" fill="#00b000"/>
<rect x="683" y="262" width="1" height="13" fill="#2a6a2a" opacity="0.4"/>
<rect x="685" y="262" width="1" height="13" fill="#2a6a2a" opacity="0.4"/>
<rect x="688" y="259.38" width="1" height="3.38" fill="#747474"/>
<rect x="687" y="260" width="3" height="2" fill="#2a6a2a"/>
<rect x="692" y="257.5" width="1" height="4.69" fill="#747474"/>
<rect x="691" y="259" width="3" height="3" fill="#2a6a2a"/>
<rect x="691" y="260" width="3" height="1" fill="#00b000"/>
<rect x="691" y="260" width="1" height="1" fill="#2a6a2a" opacity="0.4"/>
<rect x="693" y="260" width="1" height="1" fill="#2a6a2a" opacity="0.4"/>
<rect x="697" y="252.25" width="1" height="8.63" fill="#747474"/>
<rect x="696" y="257" width="3" height="3" fill="#2a6a2a"/>
<rect x="696" y="258" width="3" height="1" fill="#00b000"/>
<rect x="696" y="258" width="1" height="1" fill="#2a6a2a" opacity="0.4"/>
<rect x="698" y="258" width="1" height="1" fill="#2a6a2a" opacity="0.4"/>
<rect x="701" y="257.5" width="1" height="8.44" fill="#747474"/>
<rect x="700" y="258" width="3" height="5" fill="#8a1818"/>
<rect x="700" y="259" width="3" height="3" fill="#ee0000"/>
<rect x="700" y="259" width="1" height="3" fill="#8a1818" opacity="0.4"/>
<rect x="702" y="259" width="1" height="3" fill="#8a1818" opacity="0.4"/>
<rect x="706" y="254.69" width="1" height="8.81" fill="#747474"/>
<rect x="705" y="259" width="3" height="4" fill="#2a6a2a"/>
<rect x="705" y="260" width="3" height="2" fill="#00b000"/>
<rect x="705" y="260" width="1" height="2" fill="#2a6a2a" opacity="0.4"/>
<rect x="707" y="260" width="1" height="2" fill="#2a6a2a" opacity="0.4"/>
<rect x="710" y="258.44" width="1" height="7.5" fill="#747474"/>
<rect x="709" y="259" width="3" height="4" fill="#8a1818"/>
<rect x="709" y="260" width="3" height="2" fill="#ee0000"/>
<rect x="709" y="260" width="1" height="2" fill="#8a1818" opacity="0.4"/>
<rect x="711" y="260" width="1" height="2" fill="#8a1818" opacity="0.4"/>
<rect x="715" y="256.56" width="1" height="13.13" fill="#747474"/>
<rect x="714" y="258" width="3" height="5" fill="#2a6a2a"/>
<rect x="714" y="259" width="3" height="3" fill="#00b000"/>
<rect x="714" y="259" width="1" height="3" fill="#2a6a2a" opacity="0.4"/>
<rect x="716" y="259" width="1" height="3" fill="#2a6a2a" opacity="0.4"/>
<rect x="719" y="251.5" width="1" height="9.75" fill="#747474"/>
<rect x="718" y="257.22" width="3" height="1.5" fill="#2a2a2a"/>
<rect x="724" y="249.06" width="1" height="13.13" fill="#747474"/>
<rect x="723" y="257" width="3" height="5" fill="#8a1818"/>
<rect x="723" y="258" width="3" height="3" fill="#ee0000"/>
<rect x="723" y="258" width="1" height="3" fill="#8a1818" opacity="0.4"/>
<rect x="725" y="258" width="1" height="3" fill="#8a1818" opacity="0.4"/>
<rect x="728" y="242.5" width="1" height="20.25" fill="#747474"/>
<rect x="727" y="244" width="3" height="18" fill="#2a6a2a"/>
<rect x="727" y="245" width="3" height="16" fill="#00b000"/>
<rect x="727" y="245" width="1" height="16" fill="#2a6a2a" opacity="0.4"/>
<rect x="729" y="245" width="1" height="16" fill="#2a6a2a" opacity="0.4"/>
<rect x="732" y="243.44" width="1" height="10.31" fill="#747474"/>
<rect x="731" y="244" width="3" height="5" fill="#8a1818"/>
<rect x="731" y="245" width="3" height="3" fill="#ee0000"/>
<rect x="731" y="245" width="1" height="3" fill="#8a1818" opacity="0.4"/>
<rect x="733" y="245" width="1" height="3" fill="#8a1818" opacity="0.4"/>
<rect x="737" y="239.69" width="1" height="17.81" fill="#747474"/>
<rect x="736" y="243" width="3" height="7" fill="#2a6a2a"/>
<rect x="736" y="244" width="3" height="5" fill="#00b000"/>
<rect x="736" y="244" width="1" height="5" fill="#2a6a2a" opacity="0.4"/>
<rect x="738" y="244" width="1" height="5" fill="#2a6a2a" opacity="0.4"/>
<rect x="741" y="242.13" width="1" height="17.25" fill="#747474"/>
<rect x="740" y="243" width="3" height="4" fill="#8a1818"/>
<rect x="740" y="244" width="3" height="2" fill="#ee0000"/>
<rect x="740" y="244" width="1" height="2" fill="#8a1818" opacity="0.4"/>
<rect x="742" y="244" width="1" height="2" fill="#8a1818" opacity="0.4"/>
<rect x="746" y="245" width="1" height="10" fill="#747474"/>
<rect x="745" y="246" width="3" height="8" fill="#8a1818"/>
<rect x="745" y="247" width="3" height="6" fill="#ee0000"/>
<rect x="745" y="247" width="1" height="6" fill="#8a1818" opacity="0.4"/>
<rect x="747" y="247" width="1" height="6" fill="#8a1818" opacity="0.4"/>
<rect x="750" y="249.4" width="1" height="5" fill="#747474"/>
<rect x="749" y="250" width="3" height="4" fill="#2a6a2a"/>
<rect x="749" y="251" width="3" height="2" fill="#00b000"/>
<rect x="749" y="251" width="1" height="2" fill="#2a6a2a" opacity="0.4"/>
<rect x="751" y="251" width="1" height="2" fill="#2a6a2a" opacity="0.4"/>
<rect x="755" y="210.6" width="1" height="39.3" fill="#747474"/>
<rect x="754" y="224" width="3" height="26" fill="#2a6a2a"/>
<rect x="754" y="225" width="3" height="24" fill="#00b000"/>
<rect x="754" y="225" width="1" height="24" fill="#2a6a2a" opacity="0.4"/>
<rect x="756" y="225" width="1" height="24" fill="#2a6a2a" opacity="0.4"/>
<rect x="759" y="215.1" width="1" height="26.9" fill="#747474"/>
<rect x="758" y="223.35" width="3" height="1.5" fill="#2a2a2a"/>
<rect x="764" y="207.2" width="1" height="9.6" fill="#747474"/>
<rect x="763" y="210.45" width="3" height="1.5" fill="#2a2a2a"/>
<rect x="768" y="200.88" width="1" height="10.69" fill="#747474"/>
<rect x="767" y="202" width="3" height="9" fill="#2a6a2a"/>
<rect x="767" y="203" width="3" height="7" fill="#00b000"/>
<rect x="767" y="203" width="1" height="7" fill="#2a6a2a" opacity="0.4"/>
<rect x="769" y="203" width="1" height="7" fill="#2a6a2a" opacity="0.4"/>
<rect x="772" y="196.57" width="1" height="11.81" fill="#747474"/>
<rect x="771" y="202" width="3" height="5" fill="#8a1818"/>
<rect x="771" y="203" width="3" height="3" fill="#ee0000"/>
<rect x="771" y="203" width="1" height="3" fill="#8a1818" opacity="0.4"/>
<rect x="773" y="203" width="1" height="3" fill="#8a1818" opacity="0.4"/>
<rect x="777" y="205.94" width="1" height="7.5" fill="#747474"/>
<rect x="776" y="207" width="3" height="4" fill="#8a1818"/>
<rect x="776" y="208" width="3" height="2" fill="#ee0000"/>
<rect x="776" y="208" width="1" height="2" fill="#8a1818" opacity="0.4"/>
<rect x="778" y="208" width="1" height="2" fill="#8a1818" opacity="0.4"/>
<rect x="781" y="201.25" width="1" height="10.88" fill="#747474"/>
<rect x="780" y="202" width="3" height="10" fill="#2a6a2a"/>
<rect x="780" y="203" width="3" height="8" fill="#00b000"/>
<rect x="780" y="203" width="1" height="8" fill="#2a6a2a" opacity="0.4"/>
<rect x="782" y="203" width="1" height="8" fill="#2a6a2a" opacity="0.4"/>
<rect x="786" y="191.88" width="1" height="13.13" fill="#747474"/>
<rect x="785" y="197" width="3" height="6" fill="#2a6a2a"/>
<rect x="785" y="198" width="3" height="4" fill="#00b000"/>
<rect x="785" y="198" width="1" height="4" fill="#2a6a2a" opacity="0.4"/>
<rect x="787" y="198" width="1" height="4" fill="#2a6a2a" opacity="0.4"/>
<rect x="790" y="186.25" width="1" height="12.19" fill="#747474"/>
<rect x="789" y="190" width="3" height="8" fill="#2a6a2a"/>
<rect x="789" y="191" width="3" height="6" fill="#00b000"/>
<rect x="789" y="191" width="1" height="6" fill="#2a6a2a" opacity="0.4"/>
<rect x="791" y="191" width="1" height="6" fill="#2a6a2a" opacity="0.4"/>
<rect x="795" y="176.88" width="1" height="14.63" fill="#747474"/>
<rect x="794" y="177" width="3" height="14" fill="#2a6a2a"/>
<rect x="794" y="178" width="3" height="12" fill="#00b000"/>
<rect x="794" y="178" width="1" height="12" fill="#2a6a2a" opacity="0.4"/>
<rect x="796" y="178" width="1" height="12" fill="#2a6a2a" opacity="0.4"/>
<rect x="799" y="176.88" width="1" height="16.88" fill="#747474"/>
<rect x="798" y="177" width="3" height="15" fill="#8a1818"/>
<rect x="798" y="178" width="3" height="13" fill="#ee0000"/>
<rect x="798" y="178" width="1" height="13" fill="#8a1818" opacity="0.4"/>
<rect x="800" y="178" width="1" height="13" fill="#8a1818" opacity="0.4"/>
<rect x="804" y="184" width="1" height="8.25" fill="#747474"/>
<rect x="803" y="190" width="3" height="2" fill="#8a1818"/>
<rect x="808" y="162.81" width="1" height="30" fill="#747474"/>
<rect x="807" y="163" width="3" height="29" fill="#2a6a2a"/>
<rect x="807" y="164" width="3" height="27" fill="#00b000"/>
<rect x="807" y="164" width="1" height="27" fill="#2a6a2a" opacity="0.4"/>
<rect x="809" y="164" width="1" height="27" fill="#2a6a2a" opacity="0.4"/>
<rect x="812" y="148.75" width="1" height="15" fill="#747474"/>
<rect x="811" y="149" width="3" height="14" fill="#2a6a2a"/>
<rect x="811" y="150" width="3" height="12" fill="#00b000"/>
<rect x="811" y="150" width="1" height="12" fill="#2a6a2a" opacity="0.4"/>
<rect x="813" y="150" width="1" height="12" fill="#2a6a2a" opacity="0.4"/>
<rect x="817" y="147.25" width="1" height="11.81" fill="#747474"/>
<rect x="816" y="149" width="3" height="5" fill="#8a1818"/>
<rect x="816" y="150" width="3" height="3" fill="#ee0000"/>
<rect x="816" y="150" width="1" height="3" fill="#8a1818" opacity="0.4"/>
<rect x="818" y="150" width="1" height="3" fill="#8a1818" opacity="0.4"/>
<rect x="821" y="140.31" width="1" height="23.44" fill="#747474"/>
<rect x="820" y="153.63" width="3" height="1.5" fill="#2a2a2a"/>
<rect x="826" y="149.69" width="1" height="21.19" fill="#747474"/>
<rect x="825" y="150" width="3" height="6" fill="#2a6a2a"/>
<rect x="825" y="151" width="3" height="4" fill="#00b000"/>
<rect x="825" y="151" width="1" height="4" fill="#2a6a2a" opacity="0.4"/>
<rect x="827" y="151" width="1" height="4" fill="#2a6a2a" opacity="0.4"/>
<rect x="830" y="138.44" width="1" height="31.31" fill="#747474"/>
<rect x="829" y="151.28" width="3" height="1.5" fill="#2a2a2a"/>
<rect x="835" y="151.56" width="1" height="13.13" fill="#747474"/>
<rect x="834" y="153" width="3" height="7" fill="#8a1818"/>
<rect x="834" y="154" width="3" height="5" fill="#ee0000"/>
<rect x="834" y="154" width="1" height="5" fill="#8a1818" opacity="0.4"/>
<rect x="836" y="154" width="1" height="5" fill="#8a1818" opacity="0.4"/>
<rect x="839" y="140.31" width="1" height="25.69" fill="#747474"/>
<rect x="838" y="141" width="3" height="19" fill="#2a6a2a"/>
<rect x="838" y="142" width="3" height="17" fill="#00b000"/>
<rect x="838" y="142" width="1" height="17" fill="#2a6a2a" opacity="0.4"/>
<rect x="840" y="142" width="1" height="17" fill="#2a6a2a" opacity="0.4"/>
<rect x="844" y="137.13" width="1" height="8.81" fill="#747474"/>
<rect x="843" y="140.78" width="3" height="1.5" fill="#2a2a2a"/>
<rect x="848" y="140.31" width="1" height="18.19" fill="#747474"/>
<rect x="847" y="141" width="3" height="12" fill="#8a1818"/>
<rect x="847" y="142" width="3" height="10" fill="#ee0000"/>
<rect x="847" y="142" width="1" height="10" fill="#8a1818" opacity="0.4"/>
<rect x="849" y="142" width="1" height="10" fill="#8a1818" opacity="0.4"/>
<rect x="852" y="146.88" width="1" height="9" fill="#747474"/>
<rect x="851" y="151.28" width="3" height="1.5" fill="#2a2a2a"/>
<rect x="857" y="150.25" width="1" height="6" fill="#747474"/>
<rect x="856" y="151" width="3" height="3" fill="#8a1818"/>
<rect x="856" y="152" width="3" height="1" fill="#ee0000"/>
<rect x="856" y="152" width="1" height="1" fill="#8a1818" opacity="0.4"/>
<rect x="858" y="152" width="1" height="1" fill="#8a1818" opacity="0.4"/>
<rect x="861" y="149.13" width="1" height="6.19" fill="#747474"/>
<rect x="860" y="150" width="3" height="4" fill="#2a6a2a"/>
<rect x="860" y="151" width="3" height="2" fill="#00b000"/>
<rect x="860" y="151" width="1" height="2" fill="#2a6a2a" opacity="0.4"/>
<rect x="862" y="151" width="1" height="2" fill="#2a6a2a" opacity="0.4"/>
<rect x="866" y="149.13" width="1" height="5.63" fill="#747474"/>
<rect x="865" y="149.41" width="3" height="1.5" fill="#2a2a2a"/>
<rect x="870" y="151" width="1" height="4.31" fill="#747474"/>
<rect x="869" y="152" width="3" height="2" fill="#8a1818"/>
<rect x="875" y="151.56" width="1" height="4.69" fill="#747474"/>
<rect x="874" y="152" width="3" height="2" fill="#8a1818"/>
<rect x="879" y="154" width="1" height="11.63" fill="#747474"/>
<rect x="878" y="154" width="3" height="11" fill="#8a1818"/>
<rect x="878" y="155" width="3" height="9" fill="#ee0000"/>
<rect x="878" y="155" width="1" height="9" fill="#8a1818" opacity="0.4"/>
<rect x="880" y="155" width="1" height="9" fill="#8a1818" opacity="0.4"/>
<rect x="884" y="159.63" width="1" height="7.5" fill="#747474"/>
<rect x="883" y="160" width="3" height="6" fill="#2a6a2a"/>
<rect x="883" y="161" width="3" height="4" fill="#00b000"/>
<rect x="883" y="161" width="1" height="4" fill="#2a6a2a" opacity="0.4"/>
<rect x="885" y="161" width="1" height="4" fill="#2a6a2a" opacity="0.4"/>
<rect x="888" y="157.19" width="1" height="6.19" fill="#747474"/>
<rect x="887" y="159.35" width="3" height="1.5" fill="#2a2a2a"/>
<rect x="893" y="156.63" width="1" height="3.94" fill="#747474"/>
<rect x="892" y="157" width="3" height="3" fill="#2a6a2a"/>
<rect x="892" y="158" width="3" height="1" fill="#00b000"/>
<rect x="892" y="158" width="1" height="1" fill="#2a6a2a" opacity="0.4"/>
<rect x="894" y="158" width="1" height="1" fill="#2a6a2a" opacity="0.4"/>
<rect x="897" y="157.19" width="1" height="1.31" fill="#747474"/>
<rect x="896" y="157.19" width="3" height="1.5" fill="#2a2a2a"/>
<rect x="901" y="152.88" width="1" height="8.06" fill="#747474"/>
<rect x="900" y="158" width="3" height="2" fill="#8a1818"/>
<rect x="906" y="142.19" width="1" height="20.06" fill="#747474"/>
<rect x="905" y="143" width="3" height="16" fill="#2a6a2a"/>
<rect x="905" y="144" width="3" height="14" fill="#00b000"/>
<rect x="905" y="144" width="1" height="14" fill="#2a6a2a" opacity="0.4"/>
<rect x="907" y="144" width="1" height="14" fill="#2a6a2a" opacity="0.4"/>
<rect x="910" y="138.44" width="1" height="15" fill="#747474"/>
<rect x="909" y="143" width="3" height="10" fill="#8a1818"/>
<rect x="909" y="144" width="3" height="8" fill="#ee0000"/>
<rect x="909" y="144" width="1" height="8" fill="#8a1818" opacity="0.4"/>
<rect x="911" y="144" width="1" height="8" fill="#8a1818" opacity="0.4"/>
<rect x="915" y="149.69" width="1" height="5.06" fill="#747474"/>
<rect x="914" y="150" width="3" height="3" fill="#2a6a2a"/>
<rect x="914" y="151" width="3" height="1" fill="#00b000"/>
<rect x="914" y="151" width="1" height="1" fill="#2a6a2a" opacity="0.4"/>
<rect x="916" y="151" width="1" height="1" fill="#2a6a2a" opacity="0.4"/>
<rect x="2" y="365" width="993" height="1" fill="#d6d6d6"/><rect x="2" y="366" width="993" height="1" fill="#bdbdbd"/><rect x="2" y="367" width="993" height="1" fill="#efefef"/>
<rect x="2" y="429" width="993" height="2" fill="#c8c8c8"/>
<rect x="2" y="497" width="993" height="1" fill="#cccccc"/>
<rect x="995" y="34" width="1" height="464" fill="#d8d8d8"/>
<rect x="3" y="422.6" width="3" height="6.4" fill="#00c000"/>
<rect x="7" y="424.9" width="3" height="4.1" fill="#00c000"/>
<rect x="11" y="425.25" width="3" height="3.75" fill="#ff0000"/>
<rect x="16" y="422.1" width="3" height="6.9" fill="#ff0000"/>
<rect x="20" y="421.1" width="3" height="7.9" fill="#ff0000"/>
<rect x="25" y="413.6" width="3" height="15.4" fill="#00c000"/>
<rect x="29" y="413.6" width="3" height="15.4" fill="#00c000"/>
<rect x="34" y="413.6" width="3" height="15.4" fill="#ff0000"/>
<rect x="38" y="423.9" width="3" height="5.1" fill="#00c000"/>
<rect x="43" y="419.8" width="3" height="9.2" fill="#00c000"/>
<rect x="47" y="411.2" width="3" height="17.8" fill="#ff0000"/>
<rect x="51" y="427.1" width="3" height="1.9" fill="#00c000"/>
<rect x="56" y="426.75" width="3" height="2.25" fill="#ff0000"/>
<rect x="69" y="428" width="3" height="1" fill="#00c000"/>
<rect x="74" y="428" width="3" height="1" fill="#ff0000"/>
<rect x="78" y="428" width="3" height="1" fill="#ff0000"/>
<rect x="83" y="428" width="3" height="1" fill="#00c000"/>
<rect x="87" y="428" width="3" height="1" fill="#ff0000"/>
<rect x="91" y="427.3" width="3" height="1.7" fill="#ff0000"/>
<rect x="96" y="426.75" width="3" height="2.25" fill="#ff0000"/>
<rect x="100" y="422.1" width="3" height="6.9" fill="#ff0000"/>
<rect x="105" y="420.6" width="3" height="8.4" fill="#ff0000"/>
<rect x="109" y="422.6" width="3" height="6.4" fill="#00c000"/>
<rect x="114" y="422.1" width="3" height="6.9" fill="#ff0000"/>
<rect x="118" y="423.4" width="3" height="5.6" fill="#00c000"/>
<rect x="123" y="418.9" width="3" height="10.1" fill="#ff0000"/>
<rect x="127" y="407.4" width="3" height="21.6" fill="#00c000"/>
<rect x="131" y="414" width="3" height="15" fill="#ff0000"/>
<rect x="136" y="416.8" width="3" height="12.2" fill="#00c000"/>
<rect x="140" y="417.75" width="3" height="11.25" fill="#00c000"/>
<rect x="145" y="422.1" width="3" height="6.9" fill="#00c000"/>
<rect x="149" y="414" width="3" height="15" fill="#00c000"/>
<rect x="154" y="423.9" width="3" height="5.1" fill="#ff0000"/>
<rect x="158" y="427.3" width="3" height="1.7" fill="#00c000"/>
<rect x="171" y="428" width="3" height="1" fill="#ff0000"/>
<rect x="176" y="428" width="3" height="1" fill="#ff0000"/>
<rect x="180" y="428" width="3" height="1" fill="#ff0000"/>
<rect x="185" y="428" width="3" height="1" fill="#00c000"/>
<rect x="194" y="428" width="3" height="1" fill="#00c000"/>
<rect x="198" y="426.75" width="3" height="2.25" fill="#00c000"/>
<rect x="203" y="426.75" width="3" height="2.25" fill="#ff0000"/>
<rect x="207" y="425" width="3" height="4" fill="#ff0000"/>
<rect x="211" y="427.3" width="3" height="1.7" fill="#00c000"/>
<rect x="216" y="427.3" width="3" height="1.7" fill="#00c000"/>
<rect x="220" y="426" width="3" height="3" fill="#00c000"/>
<rect x="225" y="415" width="3" height="14" fill="#00c000"/>
<rect x="229" y="412.3" width="3" height="16.7" fill="#ff0000"/>
<rect x="234" y="414.2" width="3" height="14.8" fill="#ff0000"/>
<rect x="238" y="414.2" width="3" height="14.8" fill="#ff0000"/>
<rect x="243" y="418.5" width="3" height="10.5" fill="#00c000"/>
<rect x="247" y="421.3" width="3" height="7.7" fill="#ff0000"/>
<rect x="251" y="419" width="3" height="10" fill="#00c000"/>
<rect x="256" y="427.9" width="3" height="1.1" fill="#ff0000"/>
<rect x="260" y="425.25" width="3" height="3.75" fill="#00c000"/>
<rect x="274" y="428" width="3" height="1" fill="#00c000"/>
<rect x="278" y="428" width="3" height="1" fill="#ff0000"/>
<rect x="283" y="428" width="3" height="1" fill="#ff0000"/>
<rect x="287" y="427.5" width="3" height="1.5" fill="#00c000"/>
<rect x="291" y="428" width="3" height="1" fill="#ff0000"/>
<rect x="296" y="428" width="3" height="1" fill="#ff0000"/>
<rect x="300" y="428" width="3" height="1" fill="#00c000"/>
<rect x="305" y="426.75" width="3" height="2.25" fill="#00c000"/>
<rect x="309" y="425.8" width="3" height="3.2" fill="#ff0000"/>
<rect x="314" y="425.8" width="3" height="3.2" fill="#ff0000"/>
<rect x="318" y="425.8" width="3" height="3.2" fill="#00c000"/>
<rect x="323" y="426.75" width="3" height="2.25" fill="#ff0000"/>
<rect x="327" y="425.8" width="3" height="3.2" fill="#ff0000"/>
<rect x="331" y="419.8" width="3" height="9.2" fill="#ff0000"/>
<rect x="336" y="419.8" width="3" height="9.2" fill="#ff0000"/>
<rect x="340" y="415" width="3" height="14" fill="#ff0000"/>
<rect x="345" y="414.2" width="3" height="14.8" fill="#ff0000"/>
<rect x="349" y="416.4" width="3" height="12.6" fill="#ff0000"/>
<rect x="354" y="413" width="3" height="16" fill="#00c000"/>
<rect x="358" y="426" width="3" height="3" fill="#ff0000"/>
<rect x="363" y="426.75" width="3" height="2.25" fill="#ff0000"/>
<rect x="394" y="428" width="3" height="1" fill="#ff0000"/>
<rect x="407" y="428" width="3" height="1" fill="#00c000"/>
<rect x="411" y="428" width="3" height="1" fill="#ff0000"/>
<rect x="416" y="427.5" width="3" height="1.5" fill="#00c000"/>
<rect x="420" y="428" width="3" height="1" fill="#00c000"/>
<rect x="425" y="427.3" width="3" height="1.7" fill="#00c000"/>
<rect x="429" y="425.25" width="3" height="3.75" fill="#00c000"/>
<rect x="434" y="424" width="3" height="5" fill="#ff0000"/>
<rect x="438" y="423" width="3" height="6" fill="#00c000"/>
<rect x="443" y="423" width="3" height="6" fill="#00c000"/>
<rect x="447" y="425" width="3" height="4" fill="#ff0000"/>
<rect x="451" y="424" width="3" height="5" fill="#00c000"/>
<rect x="456" y="422.6" width="3" height="6.4" fill="#00c000"/>
<rect x="460" y="428" width="3" height="1" fill="#ff0000"/>
<rect x="465" y="428" width="3" height="1" fill="#00c000"/>
<rect x="469" y="428" width="3" height="1" fill="#ff0000"/>
<rect x="505" y="428" width="3" height="1" fill="#ff0000"/>
<rect x="509" y="428" width="3" height="1" fill="#ff0000"/>
<rect x="527" y="428" width="3" height="1" fill="#ff0000"/>
<rect x="531" y="427.3" width="3" height="1.7" fill="#ff0000"/>
<rect x="536" y="424" width="3" height="5" fill="#ff0000"/>
<rect x="540" y="427.3" width="3" height="1.7" fill="#00c000"/>
<rect x="545" y="425.25" width="3" height="3.75" fill="#ff0000"/>
<rect x="549" y="426.2" width="3" height="2.8" fill="#00c000"/>
<rect x="554" y="424.5" width="3" height="4.5" fill="#00c000"/>
<rect x="558" y="421.1" width="3" height="7.9" fill="#00c000"/>
<rect x="567" y="428" width="3" height="1" fill="#ff0000"/>
<rect x="625" y="428" width="3" height="1" fill="#00c000"/>
<rect x="629" y="428" width="3" height="1" fill="#ff0000"/>
<rect x="634" y="428" width="3" height="1" fill="#00c000"/>
<rect x="638" y="427.3" width="3" height="1.7" fill="#00c000"/>
<rect x="643" y="428" width="3" height="1" fill="#00c000"/>
<rect x="647" y="428" width="3" height="1" fill="#ff0000"/>
<rect x="651" y="425.25" width="3" height="3.75" fill="#00c000"/>
<rect x="660" y="428" width="3" height="1" fill="#ff0000"/>
<rect x="669" y="428" width="3" height="1" fill="#ff0000"/>
<rect x="674" y="428" width="3" height="1" fill="#ff0000"/>
<rect x="678" y="428" width="3" height="1" fill="#00c000"/>
<rect x="683" y="422.6" width="3" height="6.4" fill="#00c000"/>
<rect x="687" y="428" width="3" height="1" fill="#00c000"/>
<rect x="691" y="426.75" width="3" height="2.25" fill="#00c000"/>
<rect x="696" y="424.5" width="3" height="4.5" fill="#00c000"/>
<rect x="700" y="422" width="3" height="7" fill="#ff0000"/>
<rect x="705" y="423.4" width="3" height="5.6" fill="#00c000"/>
<rect x="709" y="425.25" width="3" height="3.75" fill="#ff0000"/>
<rect x="714" y="424" width="3" height="5" fill="#00c000"/>
<rect x="718" y="422" width="3" height="7" fill="#00c000"/>
<rect x="723" y="417.75" width="3" height="11.25" fill="#ff0000"/>
<rect x="727" y="406.7" width="3" height="22.3" fill="#00c000"/>
<rect x="731" y="411.75" width="3" height="17.25" fill="#ff0000"/>
<rect x="736" y="405" width="3" height="24" fill="#00c000"/>
<rect x="740" y="412.5" width="3" height="16.5" fill="#ff0000"/>
<rect x="745" y="420.2" width="3" height="8.8" fill="#ff0000"/>
<rect x="749" y="412.7" width="3" height="16.3" fill="#00c000"/>
<rect x="754" y="393.4" width="3" height="35.6" fill="#00c000"/>
<rect x="758" y="412.7" width="3" height="16.3" fill="#ff0000"/>
<rect x="763" y="423.75" width="3" height="5.25" fill="#00c000"/>
<rect x="767" y="426.2" width="3" height="2.8" fill="#00c000"/>
<rect x="771" y="422.1" width="3" height="6.9" fill="#ff0000"/>
<rect x="776" y="425.25" width="3" height="3.75" fill="#ff0000"/>
<rect x="780" y="419.1" width="3" height="9.9" fill="#00c000"/>
<rect x="785" y="421.5" width="3" height="7.5" fill="#00c000"/>
<rect x="789" y="421.5" width="3" height="7.5" fill="#00c000"/>
<rect x="794" y="419.6" width="3" height="9.4" fill="#00c000"/>
<rect x="798" y="417.75" width="3" height="11.25" fill="#ff0000"/>
<rect x="803" y="419.6" width="3" height="9.4" fill="#ff0000"/>
<rect x="807" y="400.3" width="3" height="28.7" fill="#00c000"/>
<rect x="811" y="401.8" width="3" height="27.2" fill="#00c000"/>
<rect x="816" y="399.6" width="3" height="29.4" fill="#ff0000"/>
<rect x="820" y="392.4" width="3" height="36.6" fill="#ff0000"/>
<rect x="825" y="396.2" width="3" height="32.8" fill="#00c000"/>
<rect x="829" y="369" width="3" height="60" fill="#ff0000"/>
<rect x="834" y="403.7" width="3" height="25.3" fill="#ff0000"/>
<rect x="838" y="393.4" width="3" height="35.6" fill="#00c000"/>
<rect x="843" y="404.6" width="3" height="24.4" fill="#ff0000"/>
<rect x="847" y="404.6" width="3" height="24.4" fill="#ff0000"/>
<rect x="851" y="404.6" width="3" height="24.4" fill="#00c000"/>
<rect x="856" y="424.3" width="3" height="4.7" fill="#ff0000"/>
<rect x="860" y="423.75" width="3" height="5.25" fill="#00c000"/>
<rect x="865" y="428" width="3" height="1" fill="#ff0000"/>
<rect x="869" y="428" width="3" height="1" fill="#ff0000"/>
<rect x="874" y="427.1" width="3" height="1.9" fill="#ff0000"/>
<rect x="878" y="427.7" width="3" height="1.3" fill="#ff0000"/>
<rect x="883" y="428" width="3" height="1" fill="#00c000"/>
<rect x="887" y="428" width="3" height="1" fill="#00c000"/>
<rect x="892" y="428" width="3" height="1" fill="#00c000"/>
<rect x="896" y="428" width="3" height="1" fill="#ff0000"/>
<rect x="900" y="425.6" width="3" height="3.4" fill="#ff0000"/>
<rect x="905" y="423.75" width="3" height="5.25" fill="#00c000"/>
<rect x="909" y="421" width="3" height="8" fill="#ff0000"/>
<rect x="914" y="427.7" width="3" height="1.3" fill="#00c000"/>
<polyline points="2.5,461.25 11.25,459.5 16.25,461.25 22,473 30,471.25 38.75,469.5 48.75,467 57.5,467 65,471.25 75,476.25 87.5,487 97.5,490.5 107.5,481.25 117.5,473.75 130,458.75 140,450.75 147.5,448.25 157.5,448.25 165,452.5 177.5,468.75 187.5,477 197.5,486.25 207.5,487.5 217.5,490.5 225,486.25 235,477.5 242.5,473.75 252.5,471.25 260.5,469.5 270.5,472 275.5,471.25 284.25,473.75 293,483 301.75,487.5 310.5,485.5 320.5,485.5 328,486.25 333,483 336.75,483.75 340.5,477.5 346.75,466.25 355.5,459.5 364.25,458.75 370.5,462.5 378,468 388,465.75 398,468.75 408,482 416.75,483.25 425.5,477.5 435.5,470 448,466.25 455.5,463 461.75,462.5 473,465.5 483,472.5 493,480.5 500.5,485 506,487.5 518.5,490.75 524.75,488.75 533.5,488.75 541,481.25 548.5,477.5 559.75,470.5 567.25,471.25 576,475.75 584.75,481.25 596,483.75 601,492 606,492.5 609.75,495 613.5,493 622.25,497 627.25,490 632.25,482 642.25,469.5 649.75,464.5 657.25,467 661,463.75 668.5,466.25 676,468.75 681,466.25 684.75,463 688.5,465 693.5,475 702.25,482 711,485.5 722.25,478 731,471.25 741,462.5 747.25,465.5 749.5,465.5 753.6,457.8 759,445.5 764.5,441.4 771.3,440 778.2,441.4 785,441.4 791.9,444.7 798.7,444.7 804.2,447.4 808.3,442.8 812.9,440 818.4,448.2 826,449 831.5,442.8 835.6,442 841,436 849.3,432.7 856.1,435.4 864.3,438.7 869.8,448.2 878,452.3 883.5,455.1 891.7,468.75 895.8,475.6 901.2,481 906.7,479.7 914.9,482.4" fill="none" stroke="#a4a8f7" stroke-width="1.1" shape-rendering="geometricPrecision"/>
<rect x="992" y="48" width="3" height="1" fill="#444"/>
<text x="996" y="51.4" font-size="8.8" fill="#1e1e1e" stroke="#1e1e1e" stroke-width="0.25" textLength="19.5" lengthAdjust="spacingAndGlyphs" >65.00</text>
<rect x="992" y="79" width="3" height="1" fill="#444"/>
<text x="996" y="82.7" font-size="8.8" fill="#1e1e1e" stroke="#1e1e1e" stroke-width="0.25" textLength="19.5" lengthAdjust="spacingAndGlyphs" >64.00</text>
<rect x="992" y="111" width="3" height="1" fill="#444"/>
<text x="996" y="114" font-size="8.8" fill="#1e1e1e" stroke="#1e1e1e" stroke-width="0.25" textLength="19.5" lengthAdjust="spacingAndGlyphs" >63.00</text>
<rect x="992" y="142" width="3" height="1" fill="#444"/>
<text x="996" y="145.3" font-size="8.8" fill="#1e1e1e" stroke="#1e1e1e" stroke-width="0.25" textLength="19.5" lengthAdjust="spacingAndGlyphs" >62.00</text>
<rect x="992" y="173" width="3" height="1" fill="#444"/>
<text x="996" y="176.6" font-size="8.8" fill="#1e1e1e" stroke="#1e1e1e" stroke-width="0.25" textLength="19.5" lengthAdjust="spacingAndGlyphs" >61.00</text>
<text x="996" y="207.9" font-size="8.8" fill="#1e1e1e" stroke="#1e1e1e" stroke-width="0.25" textLength="19.5" lengthAdjust="spacingAndGlyphs" >60.00</text>
<text x="996" y="239.2" font-size="8.8" fill="#1e1e1e" stroke="#1e1e1e" stroke-width="0.25" textLength="19.5" lengthAdjust="spacingAndGlyphs" >59.00</text>
<rect x="992" y="267" width="3" height="1" fill="#444"/>
<text x="996" y="270.5" font-size="8.8" fill="#1e1e1e" stroke="#1e1e1e" stroke-width="0.25" textLength="19.5" lengthAdjust="spacingAndGlyphs" >58.00</text>
<rect x="992" y="298" width="3" height="1" fill="#444"/>
<text x="996" y="301.8" font-size="8.8" fill="#1e1e1e" stroke="#1e1e1e" stroke-width="0.25" textLength="19.5" lengthAdjust="spacingAndGlyphs" >57.00</text>
<rect x="992" y="330" width="3" height="1" fill="#444"/>
<text x="996" y="333.1" font-size="8.8" fill="#1e1e1e" stroke="#1e1e1e" stroke-width="0.25" textLength="19.5" lengthAdjust="spacingAndGlyphs" >56.00</text>
<rect x="992" y="361" width="3" height="1" fill="#444"/>
<text x="996" y="364.4" font-size="8.8" fill="#1e1e1e" stroke="#1e1e1e" stroke-width="0.25" textLength="19.5" lengthAdjust="spacingAndGlyphs" >55.00</text>
<rect x="992" y="382" width="3" height="1" fill="#444"/>
<text x="996" y="385.2" font-size="8.8" fill="#1e1e1e" stroke="#1e1e1e" stroke-width="0.25" textLength="7.8" lengthAdjust="spacingAndGlyphs" >75</text>
<rect x="992" y="398" width="3" height="1" fill="#444"/>
<text x="996" y="401.2" font-size="8.8" fill="#1e1e1e" stroke="#1e1e1e" stroke-width="0.25" textLength="7.8" lengthAdjust="spacingAndGlyphs" >50</text>
<rect x="992" y="414" width="3" height="1" fill="#444"/>
<text x="996" y="417.2" font-size="8.8" fill="#1e1e1e" stroke="#1e1e1e" stroke-width="0.25" textLength="7.8" lengthAdjust="spacingAndGlyphs" >25</text>
<text x="996" y="373.2" font-size="8.8" fill="#1e1e1e" stroke="#1e1e1e" stroke-width="0.25" textLength="11.7" lengthAdjust="spacingAndGlyphs" >100</text>
<rect x="992" y="446" width="3" height="1" fill="#444"/>
<text x="996" y="449.2" font-size="8.8" fill="#1e1e1e" stroke="#1e1e1e" stroke-width="0.25" textLength="19.5" lengthAdjust="spacingAndGlyphs" >0.500</text>
<rect x="992" y="465" width="3" height="1" fill="#444"/>
<text x="996" y="468.2" font-size="8.8" fill="#1e1e1e" stroke="#1e1e1e" stroke-width="0.25" textLength="19.5" lengthAdjust="spacingAndGlyphs" >0.375</text>
<rect x="992" y="485" width="3" height="1" fill="#444"/>
<text x="996" y="488.2" font-size="8.8" fill="#1e1e1e" stroke="#1e1e1e" stroke-width="0.25" textLength="19.5" lengthAdjust="spacingAndGlyphs" >0.250</text>
<rect x="995.5" y="145.5" width="24" height="9" fill="#ecae2a" stroke="#eeb338" stroke-width="1"/>
<text x="997.8" y="152.8" font-size="7.6" fill="#f6f2c8" textLength="19" lengthAdjust="spacingAndGlyphs" >61.73</text>
<polygon points="991.4,150.8 995.3,147.6 995.3,154" fill="#1a1a1a" shape-rendering="geometricPrecision"/>
<rect x="995.5" y="241.5" width="28" height="9" fill="#f0aa1e" stroke="#b08a3a" stroke-width="1"/>
<text x="997.8" y="249.2" font-size="8.4" fill="#86c028" textLength="28.5" lengthAdjust="spacingAndGlyphs" >58.6725</text>
<rect x="995.5" y="419.5" width="23" height="9" fill="#f0aa1e" stroke="#b08a3a" stroke-width="1"/>
<text x="997.8" y="427.7" font-size="8.4" fill="#58b820" textLength="17.2" lengthAdjust="spacingAndGlyphs" >2'929</text>
<rect x="995.5" y="477.5" width="28" height="9" fill="#f0aa1e" stroke="#b08a3a" stroke-width="1"/>
<text x="997.8" y="485.2" font-size="8.2" fill="#c8a0f0" textLength="24" lengthAdjust="spacingAndGlyphs" >0.2683</text>
<rect x="4" y="498" width="1" height="3" fill="#555"/>
<text x="4.6" y="510.1" font-size="10.2" fill="#1a1a1a" stroke="#1a1a1a" stroke-width="0.2" text-anchor="middle" textLength="7.2" lengthAdjust="spacingAndGlyphs" >10</text>
<rect x="12" y="498" width="1" height="3" fill="#555"/>
<text x="12.6" y="510.1" font-size="10.2" fill="#1a1a1a" stroke="#1a1a1a" stroke-width="0.2" text-anchor="middle" textLength="7.2" lengthAdjust="spacingAndGlyphs" >12</text>
<rect x="21" y="498" width="1" height="3" fill="#555"/>
<text x="21.6" y="510.1" font-size="10.2" fill="#1a1a1a" stroke="#1a1a1a" stroke-width="0.2" text-anchor="middle" textLength="7.2" lengthAdjust="spacingAndGlyphs" >14</text>
<rect x="30" y="498" width="1" height="3" fill="#555"/>
<text x="30.6" y="510.1" font-size="10.2" fill="#1a1a1a" stroke="#1a1a1a" stroke-width="0.2" text-anchor="middle" textLength="7.2" lengthAdjust="spacingAndGlyphs" >16</text>
<rect x="39" y="498" width="1" height="3" fill="#555"/>
<text x="39.6" y="510.1" font-size="10.2" fill="#1a1a1a" stroke="#1a1a1a" stroke-width="0.2" text-anchor="middle" textLength="7.2" lengthAdjust="spacingAndGlyphs" >18</text>
<rect x="48" y="498" width="1" height="3" fill="#555"/>
<text x="48.6" y="510.1" font-size="10.2" fill="#1a1a1a" stroke="#1a1a1a" stroke-width="0.2" text-anchor="middle" textLength="7.2" lengthAdjust="spacingAndGlyphs" >20</text>
<rect x="57" y="498" width="1" height="3" fill="#555"/>
<text x="57.6" y="510.1" font-size="10.2" fill="#1a1a1a" stroke="#1a1a1a" stroke-width="0.2" text-anchor="middle" textLength="3.6" lengthAdjust="spacingAndGlyphs" >2</text>
<rect x="61" y="498" width="1" height="3" fill="#66dd66"/>
<text x="61.6" y="510.1" font-size="10.2" fill="#44dd44" stroke="#44dd44" stroke-width="0.2" text-anchor="middle" textLength="7.2" lengthAdjust="spacingAndGlyphs" >14</text>
<rect x="66" y="498" width="1" height="3" fill="#555"/>
<text x="66.6" y="510.1" font-size="10.2" fill="#1a1a1a" stroke="#1a1a1a" stroke-width="0.2" text-anchor="middle" textLength="3.6" lengthAdjust="spacingAndGlyphs" >1</text>
<rect x="70" y="498" width="1" height="3" fill="#555"/>
<text x="70.6" y="510.1" font-size="10.2" fill="#1a1a1a" stroke="#1a1a1a" stroke-width="0.2" text-anchor="middle" textLength="3.6" lengthAdjust="spacingAndGlyphs" >2</text>
<rect x="75" y="498" width="1" height="3" fill="#555"/>
<text x="75.6" y="510.1" font-size="10.2" fill="#1a1a1a" stroke="#1a1a1a" stroke-width="0.2" text-anchor="middle" textLength="3.6" lengthAdjust="spacingAndGlyphs" >3</text>
<rect x="79" y="498" width="1" height="3" fill="#555"/>
<text x="79.6" y="510.1" font-size="10.2" fill="#1a1a1a" stroke="#1a1a1a" stroke-width="0.2" text-anchor="middle" textLength="3.6" lengthAdjust="spacingAndGlyphs" >4</text>
<rect x="84" y="498" width="1" height="3" fill="#555"/>
<text x="84.6" y="510.1" font-size="10.2" fill="#1a1a1a" stroke="#1a1a1a" stroke-width="0.2" text-anchor="middle" textLength="3.6" lengthAdjust="spacingAndGlyphs" >5</text>
<rect x="88" y="498" width="1" height="3" fill="#555"/>
<text x="88.6" y="510.1" font-size="10.2" fill="#1a1a1a" stroke="#1a1a1a" stroke-width="0.2" text-anchor="middle" textLength="3.6" lengthAdjust="spacingAndGlyphs" >6</text>
<rect x="92" y="498" width="1" height="3" fill="#555"/>
<text x="92.6" y="510.1" font-size="10.2" fill="#1a1a1a" stroke="#1a1a1a" stroke-width="0.2" text-anchor="middle" textLength="3.6" lengthAdjust="spacingAndGlyphs" >7</text>
<rect x="97" y="498" width="1" height="3" fill="#555"/>
<text x="97.6" y="510.1" font-size="10.2" fill="#1a1a1a" stroke="#1a1a1a" stroke-width="0.2" text-anchor="middle" textLength="3.6" lengthAdjust="spacingAndGlyphs" >8</text>
<rect x="101" y="498" width="1" height="3" fill="#555"/>
<text x="101.6" y="510.1" font-size="10.2" fill="#1a1a1a" stroke="#1a1a1a" stroke-width="0.2" text-anchor="middle" textLength="3.6" lengthAdjust="spacingAndGlyphs" >9</text>
<rect x="106" y="498" width="1" height="3" fill="#555"/>
<text x="106.6" y="510.1" font-size="10.2" fill="#1a1a1a" stroke="#1a1a1a" stroke-width="0.2" text-anchor="middle" textLength="7.2" lengthAdjust="spacingAndGlyphs" >10</text>
<rect x="115" y="498" width="1" height="3" fill="#555"/>
<text x="115.6" y="510.1" font-size="10.2" fill="#1a1a1a" stroke="#1a1a1a" stroke-width="0.2" text-anchor="middle" textLength="7.2" lengthAdjust="spacingAndGlyphs" >12</text>
<rect x="124" y="498" width="1" height="3" fill="#555"/>
<text x="124.6" y="510.1" font-size="10.2" fill="#1a1a1a" stroke="#1a1a1a" stroke-width="0.2" text-anchor="middle" textLength="7.2" lengthAdjust="spacingAndGlyphs" >14</text>
<rect x="132" y="498" width="1" height="3" fill="#555"/>
<text x="132.6" y="510.1" font-size="10.2" fill="#1a1a1a" stroke="#1a1a1a" stroke-width="0.2" text-anchor="middle" textLength="7.2" lengthAdjust="spacingAndGlyphs" >16</text>
<rect x="141" y="498" width="1" height="3" fill="#555"/>
<text x="141.6" y="510.1" font-size="10.2" fill="#1a1a1a" stroke="#1a1a1a" stroke-width="0.2" text-anchor="middle" textLength="7.2" lengthAdjust="spacingAndGlyphs" >18</text>
<rect x="150" y="498" width="1" height="3" fill="#555"/>
<text x="150.6" y="510.1" font-size="10.2" fill="#1a1a1a" stroke="#1a1a1a" stroke-width="0.2" text-anchor="middle" textLength="7.2" lengthAdjust="spacingAndGlyphs" >20</text>
<rect x="159" y="498" width="1" height="3" fill="#555"/>
<text x="159.6" y="510.1" font-size="10.2" fill="#1a1a1a" stroke="#1a1a1a" stroke-width="0.2" text-anchor="middle" textLength="3.6" lengthAdjust="spacingAndGlyphs" >2</text>
<rect x="164" y="498" width="1" height="3" fill="#66dd66"/>
<text x="164.6" y="510.1" font-size="10.2" fill="#44dd44" stroke="#44dd44" stroke-width="0.2" text-anchor="middle" textLength="7.2" lengthAdjust="spacingAndGlyphs" >15</text>
<rect x="168" y="498" width="1" height="3" fill="#555"/>
<text x="168.6" y="510.1" font-size="10.2" fill="#1a1a1a" stroke="#1a1a1a" stroke-width="0.2" text-anchor="middle" textLength="3.6" lengthAdjust="spacingAndGlyphs" >1</text>
<rect x="172" y="498" width="1" height="3" fill="#555"/>
<text x="172.6" y="510.1" font-size="10.2" fill="#1a1a1a" stroke="#1a1a1a" stroke-width="0.2" text-anchor="middle" textLength="3.6" lengthAdjust="spacingAndGlyphs" >2</text>
<rect x="177" y="498" width="1" height="3" fill="#555"/>
<text x="177.6" y="510.1" font-size="10.2" fill="#1a1a1a" stroke="#1a1a1a" stroke-width="0.2" text-anchor="middle" textLength="3.6" lengthAdjust="spacingAndGlyphs" >3</text>
<rect x="181" y="498" width="1" height="3" fill="#555"/>
<text x="181.6" y="510.1" font-size="10.2" fill="#1a1a1a" stroke="#1a1a1a" stroke-width="0.2" text-anchor="middle" textLength="3.6" lengthAdjust="spacingAndGlyphs" >4</text>
<rect x="186" y="498" width="1" height="3" fill="#555"/>
<text x="186.6" y="510.1" font-size="10.2" fill="#1a1a1a" stroke="#1a1a1a" stroke-width="0.2" text-anchor="middle" textLength="3.6" lengthAdjust="spacingAndGlyphs" >5</text>
<rect x="190" y="498" width="1" height="3" fill="#555"/>
<text x="190.6" y="510.1" font-size="10.2" fill="#1a1a1a" stroke="#1a1a1a" stroke-width="0.2" text-anchor="middle" textLength="3.6" lengthAdjust="spacingAndGlyphs" >6</text>
<rect x="195" y="498" width="1" height="3" fill="#555"/>
<text x="195.6" y="510.1" font-size="10.2" fill="#1a1a1a" stroke="#1a1a1a" stroke-width="0.2" text-anchor="middle" textLength="3.6" lengthAdjust="spacingAndGlyphs" >7</text>
<rect x="199" y="498" width="1" height="3" fill="#555"/>
<text x="199.6" y="510.1" font-size="10.2" fill="#1a1a1a" stroke="#1a1a1a" stroke-width="0.2" text-anchor="middle" textLength="3.6" lengthAdjust="spacingAndGlyphs" >8</text>
<rect x="204" y="498" width="1" height="3" fill="#555"/>
<text x="204.6" y="510.1" font-size="10.2" fill="#1a1a1a" stroke="#1a1a1a" stroke-width="0.2" text-anchor="middle" textLength="3.6" lengthAdjust="spacingAndGlyphs" >9</text>
<rect x="208" y="498" width="1" height="3" fill="#555"/>
<text x="208.6" y="510.1" font-size="10.2" fill="#1a1a1a" stroke="#1a1a1a" stroke-width="0.2" text-anchor="middle" textLength="7.2" lengthAdjust="spacingAndGlyphs" >10</text>
<rect x="217" y="498" width="1" height="3" fill="#555"/>
<text x="217.6" y="510.1" font-size="10.2" fill="#1a1a1a" stroke="#1a1a1a" stroke-width="0.2" text-anchor="middle" textLength="7.2" lengthAdjust="spacingAndGlyphs" >12</text>
<rect x="226" y="498" width="1" height="3" fill="#555"/>
<text x="226.6" y="510.1" font-size="10.2" fill="#1a1a1a" stroke="#1a1a1a" stroke-width="0.2" text-anchor="middle" textLength="7.2" lengthAdjust="spacingAndGlyphs" >14</text>
<rect x="235" y="498" width="1" height="3" fill="#555"/>
<text x="235.6" y="510.1" font-size="10.2" fill="#1a1a1a" stroke="#1a1a1a" stroke-width="0.2" text-anchor="middle" textLength="7.2" lengthAdjust="spacingAndGlyphs" >16</text>
<rect x="244" y="498" width="1" height="3" fill="#555"/>
<text x="244.6" y="510.1" font-size="10.2" fill="#1a1a1a" stroke="#1a1a1a" stroke-width="0.2" text-anchor="middle" textLength="7.2" lengthAdjust="spacingAndGlyphs" >18</text>
<rect x="252" y="498" width="1" height="3" fill="#555"/>
<text x="252.6" y="510.1" font-size="10.2" fill="#1a1a1a" stroke="#1a1a1a" stroke-width="0.2" text-anchor="middle" textLength="7.2" lengthAdjust="spacingAndGlyphs" >20</text>
<rect x="261" y="498" width="1" height="3" fill="#555"/>
<text x="261.6" y="510.1" font-size="10.2" fill="#1a1a1a" stroke="#1a1a1a" stroke-width="0.2" text-anchor="middle" textLength="3.6" lengthAdjust="spacingAndGlyphs" >2</text>
<rect x="266" y="498" width="1" height="3" fill="#66dd66"/>
<text x="266.6" y="510.1" font-size="10.2" fill="#44dd44" stroke="#44dd44" stroke-width="0.2" text-anchor="middle" textLength="7.2" lengthAdjust="spacingAndGlyphs" >16</text>
<rect x="270" y="498" width="1" height="3" fill="#555"/>
<text x="270.6" y="510.1" font-size="10.2" fill="#1a1a1a" stroke="#1a1a1a" stroke-width="0.2" text-anchor="middle" textLength="3.6" lengthAdjust="spacingAndGlyphs" >1</text>
<rect x="275" y="498" width="1" height="3" fill="#555"/>
<text x="275.6" y="510.1" font-size="10.2" fill="#1a1a1a" stroke="#1a1a1a" stroke-width="0.2" text-anchor="middle" textLength="3.6" lengthAdjust="spacingAndGlyphs" >2</text>
<rect x="279" y="498" width="1" height="3" fill="#555"/>
<text x="279.6" y="510.1" font-size="10.2" fill="#1a1a1a" stroke="#1a1a1a" stroke-width="0.2" text-anchor="middle" textLength="3.6" lengthAdjust="spacingAndGlyphs" >3</text>
<rect x="284" y="498" width="1" height="3" fill="#555"/>
<text x="284.6" y="510.1" font-size="10.2" fill="#1a1a1a" stroke="#1a1a1a" stroke-width="0.2" text-anchor="middle" textLength="3.6" lengthAdjust="spacingAndGlyphs" >4</text>
<rect x="288" y="498" width="1" height="3" fill="#555"/>
<text x="288.6" y="510.1" font-size="10.2" fill="#1a1a1a" stroke="#1a1a1a" stroke-width="0.2" text-anchor="middle" textLength="3.6" lengthAdjust="spacingAndGlyphs" >5</text>
<rect x="292" y="498" width="1" height="3" fill="#555"/>
<text x="292.6" y="510.1" font-size="10.2" fill="#1a1a1a" stroke="#1a1a1a" stroke-width="0.2" text-anchor="middle" textLength="3.6" lengthAdjust="spacingAndGlyphs" >6</text>
<rect x="297" y="498" width="1" height="3" fill="#555"/>
<text x="297.6" y="510.1" font-size="10.2" fill="#1a1a1a" stroke="#1a1a1a" stroke-width="0.2" text-anchor="middle" textLength="3.6" lengthAdjust="spacingAndGlyphs" >7</text>
<rect x="301" y="498" width="1" height="3" fill="#555"/>
<text x="301.6" y="510.1" font-size="10.2" fill="#1a1a1a" stroke="#1a1a1a" stroke-width="0.2" text-anchor="middle" textLength="3.6" lengthAdjust="spacingAndGlyphs" >8</text>
<rect x="306" y="498" width="1" height="3" fill="#555"/>
<text x="306.6" y="510.1" font-size="10.2" fill="#1a1a1a" stroke="#1a1a1a" stroke-width="0.2" text-anchor="middle" textLength="3.6" lengthAdjust="spacingAndGlyphs" >9</text>
<rect x="310" y="498" width="1" height="3" fill="#555"/>
<text x="310.6" y="510.1" font-size="10.2" fill="#1a1a1a" stroke="#1a1a1a" stroke-width="0.2" text-anchor="middle" textLength="7.2" lengthAdjust="spacingAndGlyphs" >10</text>
<rect x="319" y="498" width="1" height="3" fill="#555"/>
<text x="319.6" y="510.1" font-size="10.2" fill="#1a1a1a" stroke="#1a1a1a" stroke-width="0.2" text-anchor="middle" textLength="7.2" lengthAdjust="spacingAndGlyphs" >12</text>
<rect x="328" y="498" width="1" height="3" fill="#555"/>
<text x="328.6" y="510.1" font-size="10.2" fill="#1a1a1a" stroke="#1a1a1a" stroke-width="0.2" text-anchor="middle" textLength="7.2" lengthAdjust="spacingAndGlyphs" >14</text>
<rect x="337" y="498" width="1" height="3" fill="#555"/>
<text x="337.6" y="510.1" font-size="10.2" fill="#1a1a1a" stroke="#1a1a1a" stroke-width="0.2" text-anchor="middle" textLength="7.2" lengthAdjust="spacingAndGlyphs" >16</text>
<rect x="346" y="498" width="1" height="3" fill="#555"/>
<text x="346.6" y="510.1" font-size="10.2" fill="#1a1a1a" stroke="#1a1a1a" stroke-width="0.2" text-anchor="middle" textLength="7.2" lengthAdjust="spacingAndGlyphs" >18</text>
<rect x="355" y="498" width="1" height="3" fill="#555"/>
<text x="355.6" y="510.1" font-size="10.2" fill="#1a1a1a" stroke="#1a1a1a" stroke-width="0.2" text-anchor="middle" textLength="7.2" lengthAdjust="spacingAndGlyphs" >20</text>
<rect x="364" y="498" width="1" height="3" fill="#555"/>
<text x="364.6" y="510.1" font-size="10.2" fill="#1a1a1a" stroke="#1a1a1a" stroke-width="0.2" text-anchor="middle" textLength="3.6" lengthAdjust="spacingAndGlyphs" >2</text>
<rect x="368" y="498" width="1" height="3" fill="#66dd66"/>
<text x="368.6" y="510.1" font-size="10.2" fill="#44dd44" stroke="#44dd44" stroke-width="0.2" text-anchor="middle" textLength="7.2" lengthAdjust="spacingAndGlyphs" >17</text>
<rect x="372" y="498" width="1" height="3" fill="#555"/>
<text x="372.6" y="510.1" font-size="10.2" fill="#1a1a1a" stroke="#1a1a1a" stroke-width="0.2" text-anchor="middle" textLength="3.6" lengthAdjust="spacingAndGlyphs" >1</text>
<rect x="377" y="498" width="1" height="3" fill="#555"/>
<text x="377.6" y="510.1" font-size="10.2" fill="#1a1a1a" stroke="#1a1a1a" stroke-width="0.2" text-anchor="middle" textLength="3.6" lengthAdjust="spacingAndGlyphs" >2</text>
<rect x="381" y="498" width="1" height="3" fill="#555"/>
<text x="381.6" y="510.1" font-size="10.2" fill="#1a1a1a" stroke="#1a1a1a" stroke-width="0.2" text-anchor="middle" textLength="3.6" lengthAdjust="spacingAndGlyphs" >3</text>
<rect x="386" y="498" width="1" height="3" fill="#555"/>
<text x="386.6" y="510.1" font-size="10.2" fill="#1a1a1a" stroke="#1a1a1a" stroke-width="0.2" text-anchor="middle" textLength="3.6" lengthAdjust="spacingAndGlyphs" >4</text>
<rect x="390" y="498" width="1" height="3" fill="#555"/>
<text x="390.6" y="510.1" font-size="10.2" fill="#1a1a1a" stroke="#1a1a1a" stroke-width="0.2" text-anchor="middle" textLength="3.6" lengthAdjust="spacingAndGlyphs" >5</text>
<rect x="395" y="498" width="1" height="3" fill="#555"/>
<text x="395.6" y="510.1" font-size="10.2" fill="#1a1a1a" stroke="#1a1a1a" stroke-width="0.2" text-anchor="middle" textLength="3.6" lengthAdjust="spacingAndGlyphs" >6</text>
<rect x="399" y="498" width="1" height="3" fill="#555"/>
<text x="399.6" y="510.1" font-size="10.2" fill="#1a1a1a" stroke="#1a1a1a" stroke-width="0.2" text-anchor="middle" textLength="3.6" lengthAdjust="spacingAndGlyphs" >7</text>
<rect x="404" y="498" width="1" height="3" fill="#555"/>
<text x="404.6" y="510.1" font-size="10.2" fill="#1a1a1a" stroke="#1a1a1a" stroke-width="0.2" text-anchor="middle" textLength="3.6" lengthAdjust="spacingAndGlyphs" >8</text>
<rect x="408" y="498" width="1" height="3" fill="#555"/>
<text x="408.6" y="510.1" font-size="10.2" fill="#1a1a1a" stroke="#1a1a1a" stroke-width="0.2" text-anchor="middle" textLength="3.6" lengthAdjust="spacingAndGlyphs" >9</text>
<rect x="412" y="498" width="1" height="3" fill="#555"/>
<text x="412.6" y="510.1" font-size="10.2" fill="#1a1a1a" stroke="#1a1a1a" stroke-width="0.2" text-anchor="middle" textLength="7.2" lengthAdjust="spacingAndGlyphs" >10</text>
<rect x="421" y="498" width="1" height="3" fill="#555"/>
<text x="421.6" y="510.1" font-size="10.2" fill="#1a1a1a" stroke="#1a1a1a" stroke-width="0.2" text-anchor="middle" textLength="7.2" lengthAdjust="spacingAndGlyphs" >12</text>
<rect x="430" y="498" width="1" height="3" fill="#555"/>
<text x="430.6" y="510.1" font-size="10.2" fill="#1a1a1a" stroke="#1a1a1a" stroke-width="0.2" text-anchor="middle" textLength="7.2" lengthAdjust="spacingAndGlyphs" >14</text>
<rect x="439" y="498" width="1" height="3" fill="#555"/>
<text x="439.6" y="510.1" font-size="10.2" fill="#1a1a1a" stroke="#1a1a1a" stroke-width="0.2" text-anchor="middle" textLength="7.2" lengthAdjust="spacingAndGlyphs" >16</text>
<rect x="448" y="498" width="1" height="3" fill="#555"/>
<text x="448.6" y="510.1" font-size="10.2" fill="#1a1a1a" stroke="#1a1a1a" stroke-width="0.2" text-anchor="middle" textLength="7.2" lengthAdjust="spacingAndGlyphs" >18</text>
<rect x="457" y="498" width="1" height="3" fill="#555"/>
<text x="457.6" y="510.1" font-size="10.2" fill="#1a1a1a" stroke="#1a1a1a" stroke-width="0.2" text-anchor="middle" textLength="7.2" lengthAdjust="spacingAndGlyphs" >20</text>
<rect x="466" y="498" width="1" height="3" fill="#555"/>
<text x="466.6" y="510.1" font-size="10.2" fill="#1a1a1a" stroke="#1a1a1a" stroke-width="0.2" text-anchor="middle" textLength="3.6" lengthAdjust="spacingAndGlyphs" >2</text>
<rect x="470" y="498" width="1" height="3" fill="#66dd66"/>
<text x="470.6" y="510.1" font-size="10.2" fill="#44dd44" stroke="#44dd44" stroke-width="0.2" text-anchor="middle" textLength="7.2" lengthAdjust="spacingAndGlyphs" >20</text>
<rect x="475" y="498" width="1" height="3" fill="#555"/>
<text x="475.6" y="510.1" font-size="10.2" fill="#1a1a1a" stroke="#1a1a1a" stroke-width="0.2" text-anchor="middle" textLength="3.6" lengthAdjust="spacingAndGlyphs" >1</text>
<rect x="479" y="498" width="1" height="3" fill="#555"/>
<text x="479.6" y="510.1" font-size="10.2" fill="#1a1a1a" stroke="#1a1a1a" stroke-width="0.2" text-anchor="middle" textLength="3.6" lengthAdjust="spacingAndGlyphs" >2</text>
<rect x="484" y="498" width="1" height="3" fill="#555"/>
<text x="484.6" y="510.1" font-size="10.2" fill="#1a1a1a" stroke="#1a1a1a" stroke-width="0.2" text-anchor="middle" textLength="3.6" lengthAdjust="spacingAndGlyphs" >3</text>
<rect x="488" y="498" width="1" height="3" fill="#555"/>
<text x="488.6" y="510.1" font-size="10.2" fill="#1a1a1a" stroke="#1a1a1a" stroke-width="0.2" text-anchor="middle" textLength="3.6" lengthAdjust="spacingAndGlyphs" >4</text>
<rect x="492" y="498" width="1" height="3" fill="#555"/>
<text x="492.6" y="510.1" font-size="10.2" fill="#1a1a1a" stroke="#1a1a1a" stroke-width="0.2" text-anchor="middle" textLength="3.6" lengthAdjust="spacingAndGlyphs" >5</text>
<rect x="497" y="498" width="1" height="3" fill="#555"/>
<text x="497.6" y="510.1" font-size="10.2" fill="#1a1a1a" stroke="#1a1a1a" stroke-width="0.2" text-anchor="middle" textLength="3.6" lengthAdjust="spacingAndGlyphs" >6</text>
<rect x="501" y="498" width="1" height="3" fill="#555"/>
<text x="501.6" y="510.1" font-size="10.2" fill="#1a1a1a" stroke="#1a1a1a" stroke-width="0.2" text-anchor="middle" textLength="3.6" lengthAdjust="spacingAndGlyphs" >7</text>
<rect x="506" y="498" width="1" height="3" fill="#555"/>
<text x="506.6" y="510.1" font-size="10.2" fill="#1a1a1a" stroke="#1a1a1a" stroke-width="0.2" text-anchor="middle" textLength="3.6" lengthAdjust="spacingAndGlyphs" >8</text>
<rect x="510" y="498" width="1" height="3" fill="#555"/>
<text x="510.6" y="510.1" font-size="10.2" fill="#1a1a1a" stroke="#1a1a1a" stroke-width="0.2" text-anchor="middle" textLength="3.6" lengthAdjust="spacingAndGlyphs" >9</text>
<rect x="515" y="498" width="1" height="3" fill="#555"/>
<text x="515.6" y="510.1" font-size="10.2" fill="#1a1a1a" stroke="#1a1a1a" stroke-width="0.2" text-anchor="middle" textLength="7.2" lengthAdjust="spacingAndGlyphs" >10</text>
<rect x="524" y="498" width="1" height="3" fill="#555"/>
<text x="524.6" y="510.1" font-size="10.2" fill="#1a1a1a" stroke="#1a1a1a" stroke-width="0.2" text-anchor="middle" textLength="7.2" lengthAdjust="spacingAndGlyphs" >12</text>
<rect x="532" y="498" width="1" height="3" fill="#555"/>
<text x="532.6" y="510.1" font-size="10.2" fill="#1a1a1a" stroke="#1a1a1a" stroke-width="0.2" text-anchor="middle" textLength="7.2" lengthAdjust="spacingAndGlyphs" >14</text>
<rect x="541" y="498" width="1" height="3" fill="#555"/>
<text x="541.6" y="510.1" font-size="10.2" fill="#1a1a1a" stroke="#1a1a1a" stroke-width="0.2" text-anchor="middle" textLength="7.2" lengthAdjust="spacingAndGlyphs" >16</text>
<rect x="550" y="498" width="1" height="3" fill="#555"/>
<text x="550.6" y="510.1" font-size="10.2" fill="#1a1a1a" stroke="#1a1a1a" stroke-width="0.2" text-anchor="middle" textLength="7.2" lengthAdjust="spacingAndGlyphs" >18</text>
<rect x="559" y="498" width="1" height="3" fill="#555"/>
<text x="559.6" y="510.1" font-size="10.2" fill="#1a1a1a" stroke="#1a1a1a" stroke-width="0.2" text-anchor="middle" textLength="7.2" lengthAdjust="spacingAndGlyphs" >20</text>
<rect x="568" y="498" width="1" height="3" fill="#555"/>
<text x="568.6" y="510.1" font-size="10.2" fill="#1a1a1a" stroke="#1a1a1a" stroke-width="0.2" text-anchor="middle" textLength="3.6" lengthAdjust="spacingAndGlyphs" >2</text>
<rect x="572" y="498" width="1" height="3" fill="#66dd66"/>
<text x="572.6" y="510.1" font-size="10.2" fill="#44dd44" stroke="#44dd44" stroke-width="0.2" text-anchor="middle" textLength="7.2" lengthAdjust="spacingAndGlyphs" >21</text>
<rect x="577" y="498" width="1" height="3" fill="#555"/>
<text x="577.6" y="510.1" font-size="10.2" fill="#1a1a1a" stroke="#1a1a1a" stroke-width="0.2" text-anchor="middle" textLength="3.6" lengthAdjust="spacingAndGlyphs" >1</text>
<rect x="581" y="498" width="1" height="3" fill="#555"/>
<text x="581.6" y="510.1" font-size="10.2" fill="#1a1a1a" stroke="#1a1a1a" stroke-width="0.2" text-anchor="middle" textLength="3.6" lengthAdjust="spacingAndGlyphs" >2</text>
<rect x="586" y="498" width="1" height="3" fill="#555"/>
<text x="586.6" y="510.1" font-size="10.2" fill="#1a1a1a" stroke="#1a1a1a" stroke-width="0.2" text-anchor="middle" textLength="3.6" lengthAdjust="spacingAndGlyphs" >3</text>
<rect x="590" y="498" width="1" height="3" fill="#555"/>
<text x="590.6" y="510.1" font-size="10.2" fill="#1a1a1a" stroke="#1a1a1a" stroke-width="0.2" text-anchor="middle" textLength="3.6" lengthAdjust="spacingAndGlyphs" >6</text>
<rect x="595" y="498" width="1" height="3" fill="#555"/>
<text x="595.6" y="510.1" font-size="10.2" fill="#1a1a1a" stroke="#1a1a1a" stroke-width="0.2" text-anchor="middle" textLength="3.6" lengthAdjust="spacingAndGlyphs" >7</text>
<rect x="599" y="498" width="1" height="3" fill="#555"/>
<text x="599.6" y="510.1" font-size="10.2" fill="#1a1a1a" stroke="#1a1a1a" stroke-width="0.2" text-anchor="middle" textLength="3.6" lengthAdjust="spacingAndGlyphs" >8</text>
<rect x="604" y="498" width="1" height="3" fill="#555"/>
<text x="604.6" y="510.1" font-size="10.2" fill="#1a1a1a" stroke="#1a1a1a" stroke-width="0.2" text-anchor="middle" textLength="3.6" lengthAdjust="spacingAndGlyphs" >9</text>
<rect x="608" y="498" width="1" height="3" fill="#555"/>
<text x="608.6" y="510.1" font-size="10.2" fill="#1a1a1a" stroke="#1a1a1a" stroke-width="0.2" text-anchor="middle" textLength="7.2" lengthAdjust="spacingAndGlyphs" >10</text>
<rect x="617" y="498" width="1" height="3" fill="#555"/>
<text x="617.6" y="510.1" font-size="10.2" fill="#1a1a1a" stroke="#1a1a1a" stroke-width="0.2" text-anchor="middle" textLength="7.2" lengthAdjust="spacingAndGlyphs" >12</text>
<rect x="626" y="498" width="1" height="3" fill="#555"/>
<text x="626.6" y="510.1" font-size="10.2" fill="#1a1a1a" stroke="#1a1a1a" stroke-width="0.2" text-anchor="middle" textLength="7.2" lengthAdjust="spacingAndGlyphs" >14</text>
<rect x="635" y="498" width="1" height="3" fill="#555"/>
<text x="635.6" y="510.1" font-size="10.2" fill="#1a1a1a" stroke="#1a1a1a" stroke-width="0.2" text-anchor="middle" textLength="7.2" lengthAdjust="spacingAndGlyphs" >16</text>
<rect x="644" y="498" width="1" height="3" fill="#555"/>
<text x="644.6" y="510.1" font-size="10.2" fill="#1a1a1a" stroke="#1a1a1a" stroke-width="0.2" text-anchor="middle" textLength="7.2" lengthAdjust="spacingAndGlyphs" >18</text>
<rect x="652" y="498" width="1" height="3" fill="#555"/>
<text x="652.6" y="510.1" font-size="10.2" fill="#1a1a1a" stroke="#1a1a1a" stroke-width="0.2" text-anchor="middle" textLength="7.2" lengthAdjust="spacingAndGlyphs" >20</text>
<rect x="661" y="498" width="1" height="3" fill="#66dd66"/>
<text x="661.6" y="510.1" font-size="10.2" fill="#44dd44" stroke="#44dd44" stroke-width="0.2" text-anchor="middle" textLength="7.2" lengthAdjust="spacingAndGlyphs" >22</text>
<rect x="666" y="498" width="1" height="3" fill="#555"/>
<text x="666.6" y="510.1" font-size="10.2" fill="#1a1a1a" stroke="#1a1a1a" stroke-width="0.2" text-anchor="middle" textLength="3.6" lengthAdjust="spacingAndGlyphs" >1</text>
<rect x="670" y="498" width="1" height="3" fill="#555"/>
<text x="670.6" y="510.1" font-size="10.2" fill="#1a1a1a" stroke="#1a1a1a" stroke-width="0.2" text-anchor="middle" textLength="3.6" lengthAdjust="spacingAndGlyphs" >2</text>
<rect x="675" y="498" width="1" height="3" fill="#555"/>
<text x="675.6" y="510.1" font-size="10.2" fill="#1a1a1a" stroke="#1a1a1a" stroke-width="0.2" text-anchor="middle" textLength="3.6" lengthAdjust="spacingAndGlyphs" >3</text>
<rect x="679" y="498" width="1" height="3" fill="#555"/>
<text x="679.6" y="510.1" font-size="10.2" fill="#1a1a1a" stroke="#1a1a1a" stroke-width="0.2" text-anchor="middle" textLength="3.6" lengthAdjust="spacingAndGlyphs" >4</text>
<rect x="684" y="498" width="1" height="3" fill="#555"/>
<text x="684.6" y="510.1" font-size="10.2" fill="#1a1a1a" stroke="#1a1a1a" stroke-width="0.2" text-anchor="middle" textLength="3.6" lengthAdjust="spacingAndGlyphs" >5</text>
<rect x="688" y="498" width="1" height="3" fill="#555"/>
<text x="688.6" y="510.1" font-size="10.2" fill="#1a1a1a" stroke="#1a1a1a" stroke-width="0.2" text-anchor="middle" textLength="3.6" lengthAdjust="spacingAndGlyphs" >6</text>
<rect x="692" y="498" width="1" height="3" fill="#555"/>
<text x="692.6" y="510.1" font-size="10.2" fill="#1a1a1a" stroke="#1a1a1a" stroke-width="0.2" text-anchor="middle" textLength="3.6" lengthAdjust="spacingAndGlyphs" >7</text>
<rect x="697" y="498" width="1" height="3" fill="#555"/>
<text x="697.6" y="510.1" font-size="10.2" fill="#1a1a1a" stroke="#1a1a1a" stroke-width="0.2" text-anchor="middle" textLength="3.6" lengthAdjust="spacingAndGlyphs" >8</text>
<rect x="701" y="498" width="1" height="3" fill="#555"/>
<text x="701.6" y="510.1" font-size="10.2" fill="#1a1a1a" stroke="#1a1a1a" stroke-width="0.2" text-anchor="middle" textLength="3.6" lengthAdjust="spacingAndGlyphs" >9</text>
<rect x="706" y="498" width="1" height="3" fill="#555"/>
<text x="706.6" y="510.1" font-size="10.2" fill="#1a1a1a" stroke="#1a1a1a" stroke-width="0.2" text-anchor="middle" textLength="7.2" lengthAdjust="spacingAndGlyphs" >10</text>
<rect x="715" y="498" width="1" height="3" fill="#555"/>
<text x="715.6" y="510.1" font-size="10.2" fill="#1a1a1a" stroke="#1a1a1a" stroke-width="0.2" text-anchor="middle" textLength="7.2" lengthAdjust="spacingAndGlyphs" >12</text>
<rect x="724" y="498" width="1" height="3" fill="#555"/>
<text x="724.6" y="510.1" font-size="10.2" fill="#1a1a1a" stroke="#1a1a1a" stroke-width="0.2" text-anchor="middle" textLength="7.2" lengthAdjust="spacingAndGlyphs" >14</text>
<rect x="732" y="498" width="1" height="3" fill="#555"/>
<text x="732.6" y="510.1" font-size="10.2" fill="#1a1a1a" stroke="#1a1a1a" stroke-width="0.2" text-anchor="middle" textLength="7.2" lengthAdjust="spacingAndGlyphs" >16</text>
<rect x="741" y="498" width="1" height="3" fill="#555"/>
<text x="741.6" y="510.1" font-size="10.2" fill="#1a1a1a" stroke="#1a1a1a" stroke-width="0.2" text-anchor="middle" textLength="7.2" lengthAdjust="spacingAndGlyphs" >18</text>
<rect x="750" y="498" width="1" height="3" fill="#555"/>
<text x="750.6" y="510.1" font-size="10.2" fill="#1a1a1a" stroke="#1a1a1a" stroke-width="0.2" text-anchor="middle" textLength="7.2" lengthAdjust="spacingAndGlyphs" >20</text>
<rect x="759" y="498" width="1" height="3" fill="#555"/>
<text x="759.6" y="510.1" font-size="10.2" fill="#1a1a1a" stroke="#1a1a1a" stroke-width="0.2" text-anchor="middle" textLength="3.6" lengthAdjust="spacingAndGlyphs" >2</text>
<rect x="764" y="498" width="1" height="3" fill="#66dd66"/>
<text x="764.6" y="510.1" font-size="10.2" fill="#44dd44" stroke="#44dd44" stroke-width="0.2" text-anchor="middle" textLength="7.2" lengthAdjust="spacingAndGlyphs" >23</text>
<rect x="768" y="498" width="1" height="3" fill="#555"/>
<text x="768.6" y="510.1" font-size="10.2" fill="#1a1a1a" stroke="#1a1a1a" stroke-width="0.2" text-anchor="middle" textLength="3.6" lengthAdjust="spacingAndGlyphs" >1</text>
<rect x="772" y="498" width="1" height="3" fill="#555"/>
<text x="772.6" y="510.1" font-size="10.2" fill="#1a1a1a" stroke="#1a1a1a" stroke-width="0.2" text-anchor="middle" textLength="3.6" lengthAdjust="spacingAndGlyphs" >2</text>
<rect x="777" y="498" width="1" height="3" fill="#555"/>
<text x="777.6" y="510.1" font-size="10.2" fill="#1a1a1a" stroke="#1a1a1a" stroke-width="0.2" text-anchor="middle" textLength="3.6" lengthAdjust="spacingAndGlyphs" >3</text>
<rect x="781" y="498" width="1" height="3" fill="#555"/>
<text x="781.6" y="510.1" font-size="10.2" fill="#1a1a1a" stroke="#1a1a1a" stroke-width="0.2" text-anchor="middle" textLength="3.6" lengthAdjust="spacingAndGlyphs" >4</text>
<rect x="786" y="498" width="1" height="3" fill="#555"/>
<text x="786.6" y="510.1" font-size="10.2" fill="#1a1a1a" stroke="#1a1a1a" stroke-width="0.2" text-anchor="middle" textLength="3.6" lengthAdjust="spacingAndGlyphs" >5</text>
<rect x="790" y="498" width="1" height="3" fill="#555"/>
<text x="790.6" y="510.1" font-size="10.2" fill="#1a1a1a" stroke="#1a1a1a" stroke-width="0.2" text-anchor="middle" textLength="3.6" lengthAdjust="spacingAndGlyphs" >6</text>
<rect x="795" y="498" width="1" height="3" fill="#555"/>
<text x="795.6" y="510.1" font-size="10.2" fill="#1a1a1a" stroke="#1a1a1a" stroke-width="0.2" text-anchor="middle" textLength="3.6" lengthAdjust="spacingAndGlyphs" >7</text>
<rect x="799" y="498" width="1" height="3" fill="#555"/>
<text x="799.6" y="510.1" font-size="10.2" fill="#1a1a1a" stroke="#1a1a1a" stroke-width="0.2" text-anchor="middle" textLength="3.6" lengthAdjust="spacingAndGlyphs" >8</text>
<rect x="804" y="498" width="1" height="3" fill="#555"/>
<text x="804.6" y="510.1" font-size="10.2" fill="#1a1a1a" stroke="#1a1a1a" stroke-width="0.2" text-anchor="middle" textLength="3.6" lengthAdjust="spacingAndGlyphs" >9</text>
<rect x="808" y="498" width="1" height="3" fill="#555"/>
<text x="808.6" y="510.1" font-size="10.2" fill="#1a1a1a" stroke="#1a1a1a" stroke-width="0.2" text-anchor="middle" textLength="7.2" lengthAdjust="spacingAndGlyphs" >10</text>
<rect x="817" y="498" width="1" height="3" fill="#555"/>
<text x="817.6" y="510.1" font-size="10.2" fill="#1a1a1a" stroke="#1a1a1a" stroke-width="0.2" text-anchor="middle" textLength="7.2" lengthAdjust="spacingAndGlyphs" >12</text>
<rect x="826" y="498" width="1" height="3" fill="#555"/>
<text x="826.6" y="510.1" font-size="10.2" fill="#1a1a1a" stroke="#1a1a1a" stroke-width="0.2" text-anchor="middle" textLength="7.2" lengthAdjust="spacingAndGlyphs" >14</text>
<rect x="835" y="498" width="1" height="3" fill="#555"/>
<text x="835.6" y="510.1" font-size="10.2" fill="#1a1a1a" stroke="#1a1a1a" stroke-width="0.2" text-anchor="middle" textLength="7.2" lengthAdjust="spacingAndGlyphs" >16</text>
<rect x="844" y="498" width="1" height="3" fill="#555"/>
<text x="844.6" y="510.1" font-size="10.2" fill="#1a1a1a" stroke="#1a1a1a" stroke-width="0.2" text-anchor="middle" textLength="7.2" lengthAdjust="spacingAndGlyphs" >18</text>
<rect x="852" y="498" width="1" height="3" fill="#555"/>
<text x="852.6" y="510.1" font-size="10.2" fill="#1a1a1a" stroke="#1a1a1a" stroke-width="0.2" text-anchor="middle" textLength="7.2" lengthAdjust="spacingAndGlyphs" >20</text>
<rect x="861" y="498" width="1" height="3" fill="#555"/>
<text x="861.6" y="510.1" font-size="10.2" fill="#1a1a1a" stroke="#1a1a1a" stroke-width="0.2" text-anchor="middle" textLength="3.6" lengthAdjust="spacingAndGlyphs" >2</text>
<rect x="866" y="498" width="1" height="3" fill="#66dd66"/>
<text x="866.6" y="510.1" font-size="10.2" fill="#44dd44" stroke="#44dd44" stroke-width="0.2" text-anchor="middle" textLength="7.2" lengthAdjust="spacingAndGlyphs" >24</text>
<rect x="870" y="498" width="1" height="3" fill="#555"/>
<text x="870.6" y="510.1" font-size="10.2" fill="#1a1a1a" stroke="#1a1a1a" stroke-width="0.2" text-anchor="middle" textLength="3.6" lengthAdjust="spacingAndGlyphs" >1</text>
<rect x="875" y="498" width="1" height="3" fill="#555"/>
<text x="875.6" y="510.1" font-size="10.2" fill="#1a1a1a" stroke="#1a1a1a" stroke-width="0.2" text-anchor="middle" textLength="3.6" lengthAdjust="spacingAndGlyphs" >2</text>
<rect x="879" y="498" width="1" height="3" fill="#555"/>
<text x="879.6" y="510.1" font-size="10.2" fill="#1a1a1a" stroke="#1a1a1a" stroke-width="0.2" text-anchor="middle" textLength="3.6" lengthAdjust="spacingAndGlyphs" >3</text>
<rect x="884" y="498" width="1" height="3" fill="#555"/>
<text x="884.6" y="510.1" font-size="10.2" fill="#1a1a1a" stroke="#1a1a1a" stroke-width="0.2" text-anchor="middle" textLength="3.6" lengthAdjust="spacingAndGlyphs" >4</text>
<rect x="888" y="498" width="1" height="3" fill="#555"/>
<text x="888.6" y="510.1" font-size="10.2" fill="#1a1a1a" stroke="#1a1a1a" stroke-width="0.2" text-anchor="middle" textLength="3.6" lengthAdjust="spacingAndGlyphs" >5</text>
<rect x="893" y="498" width="1" height="3" fill="#555"/>
<text x="893.6" y="510.1" font-size="10.2" fill="#1a1a1a" stroke="#1a1a1a" stroke-width="0.2" text-anchor="middle" textLength="3.6" lengthAdjust="spacingAndGlyphs" >6</text>
<rect x="897" y="498" width="1" height="3" fill="#555"/>
<text x="897.6" y="510.1" font-size="10.2" fill="#1a1a1a" stroke="#1a1a1a" stroke-width="0.2" text-anchor="middle" textLength="3.6" lengthAdjust="spacingAndGlyphs" >7</text>
<rect x="901" y="498" width="1" height="3" fill="#555"/>
<text x="901.6" y="510.1" font-size="10.2" fill="#1a1a1a" stroke="#1a1a1a" stroke-width="0.2" text-anchor="middle" textLength="3.6" lengthAdjust="spacingAndGlyphs" >8</text>
<rect x="906" y="498" width="1" height="3" fill="#555"/>
<text x="906.6" y="510.1" font-size="10.2" fill="#1a1a1a" stroke="#1a1a1a" stroke-width="0.2" text-anchor="middle" textLength="3.6" lengthAdjust="spacingAndGlyphs" >9</text>
<rect x="910" y="498" width="1" height="3" fill="#555"/>
<text x="910.6" y="510.1" font-size="10.2" fill="#1a1a1a" stroke="#1a1a1a" stroke-width="0.2" text-anchor="middle" textLength="7.2" lengthAdjust="spacingAndGlyphs" >10</text>
<rect x="919" y="498" width="1" height="3" fill="#555"/>
<text x="919.6" y="510.1" font-size="10.2" fill="#1a1a1a" stroke="#1a1a1a" stroke-width="0.2" text-anchor="middle" textLength="7.2" lengthAdjust="spacingAndGlyphs" >12</text>
<text x="3.3" y="42.2" font-size="8.4" fill="#48c848" textLength="60" lengthAdjust="spacingAndGlyphs" >Media mobile(200)</text>
<text x="3.5" y="376" font-size="8" fill="#44c044" textLength="20.3" lengthAdjust="spacingAndGlyphs" >Volumi</text>
<text x="3" y="439.8" font-size="8.2" fill="#9a9ef0" textLength="79" lengthAdjust="spacingAndGlyphs" >Average true range(14)</text>
<rect x="142" y="357" width="40" height="8" fill="#fff"/>
<text x="143.2" y="363.6" font-size="7.6" fill="#8c8c8c" textLength="37" lengthAdjust="spacingAndGlyphs" >Dati Intraday</text>
<rect x="2" y="473" width="14" height="24" fill="#e8a010"/>
<polyline points="6,480.8 12.3,485.6 7.2,490.2" stroke="#404040" stroke-width="3" fill="none" stroke-linejoin="miter" shape-rendering="geometricPrecision"/>
<text x="3.75" y="12.9" font-size="9" fill="#ffffff" textLength="15.15" lengthAdjust="spacingAndGlyphs" >WTI:</text>
<text x="21.6" y="12.9" font-size="9" fill="#ffffff" textLength="28.6" lengthAdjust="spacingAndGlyphs" >CRUDE</text>
<text x="53" y="12.9" font-size="9" fill="#ffffff" textLength="11.5" lengthAdjust="spacingAndGlyphs" >OIL</text>
<text x="68" y="12.9" font-size="9" fill="#ffffff" textLength="11.6" lengthAdjust="spacingAndGlyphs" >0%</text>
<text x="83.75" y="12.9" font-size="9" fill="#ffffff" textLength="31.85" lengthAdjust="spacingAndGlyphs" >11:00:00</text>
<text x="122.5" y="12.9" font-size="9" fill="#ffffff" textLength="31.3" lengthAdjust="spacingAndGlyphs" >&lt;61.41&gt;</text>
<text x="157.5" y="12.9" font-size="9" fill="#ffffff" textLength="27.1" lengthAdjust="spacingAndGlyphs" >(1 ora)</text>
<path d="M933.40,3.10 L934.81,6.76 L938.73,6.97 L935.68,9.44 L936.69,13.23 L933.40,11.10 L930.11,13.23 L931.12,9.44 L928.07,6.97 L931.99,6.76 Z M933.40,7.60 L934.05,8.01 L934.64,8.50 L934.45,9.24 L934.16,9.95 L933.40,10.00 L932.64,9.95 L932.35,9.24 L932.16,8.50 L932.75,8.01 Z" fill="#fff" fill-rule="evenodd" shape-rendering="geometricPrecision"/>
<path d="M949.8,6.9 L953.4,4.5" stroke="#fff" stroke-width="2.0" fill="none" stroke-linecap="round" shape-rendering="geometricPrecision"/>
<path d="M951.8,6.0 L958.6,12.6" stroke="#fff" stroke-width="1.9" fill="none" stroke-linecap="round" shape-rendering="geometricPrecision"/>
<rect x="970.5" y="11" width="8.5" height="2" fill="#fff"/>
<rect x="990.5" y="4.5" width="9.5" height="8.5" fill="none" stroke="#fff" stroke-opacity="0.8" stroke-width="1"/><rect x="990" y="4" width="10.5" height="2" fill="#fff"/>
<path d="M1011.5,4.5 L1020.5,13 M1020.5,4.5 L1011.5,13" stroke="#fff" stroke-width="1.5" shape-rendering="geometricPrecision"/>
<text x="2.8" y="28" font-size="9" fill="#333" stroke="#333" stroke-width="0.3" textLength="91" lengthAdjust="spacingAndGlyphs" >(m.61,21-M.62,13 A:61,74)</text>
<text x="95.6" y="28" font-size="9" fill="#999" textLength="17.8" lengthAdjust="spacingAndGlyphs" >Data:</text>
<text x="114.7" y="28" font-size="9" fill="#333" stroke="#333" stroke-width="0.3" textLength="50" lengthAdjust="spacingAndGlyphs" >16/10 17:00:00</text>
<text x="169" y="28" font-size="9" fill="#999" textLength="7" lengthAdjust="spacingAndGlyphs" >C:</text>
<text x="177.5" y="28" font-size="9" fill="#3c3cf0" stroke="#3c3cf0" stroke-width="0.25" textLength="18.7" lengthAdjust="spacingAndGlyphs" >58.13</text>
<text x="215" y="28" font-size="9" fill="#999" textLength="7.8" lengthAdjust="spacingAndGlyphs" >m:</text>
<text x="224.7" y="28" font-size="9" fill="#333" stroke="#333" stroke-width="0.3" textLength="19.2" lengthAdjust="spacingAndGlyphs" >57.74</text>
<text x="256" y="28" font-size="9" fill="#999" textLength="8" lengthAdjust="spacingAndGlyphs" >M:</text>
<text x="265.5" y="28" font-size="9" fill="#333" stroke="#333" stroke-width="0.3" textLength="19" lengthAdjust="spacingAndGlyphs" >58.65</text>
<text x="296" y="28" font-size="9" fill="#999" textLength="8" lengthAdjust="spacingAndGlyphs" >O:</text>
<text x="305.5" y="28" font-size="9" fill="#333" stroke="#333" stroke-width="0.3" textLength="19" lengthAdjust="spacingAndGlyphs" >58.39</text>
<text x="336" y="28" font-size="9" fill="#999" textLength="8" lengthAdjust="spacingAndGlyphs" >%:</text>
<text x="346" y="28" font-size="9" fill="#e83030" stroke="#e83030" stroke-width="0.25" textLength="24" lengthAdjust="spacingAndGlyphs" >-2.11%</text>
<text x="384" y="28" font-size="9" fill="#999" textLength="7" lengthAdjust="spacingAndGlyphs" >V:</text>
<text x="392.5" y="28" font-size="9" fill="#333" stroke="#333" stroke-width="0.3" textLength="22" lengthAdjust="spacingAndGlyphs" >22'682</text>
<rect x="886.5" y="18.5" width="48.5" height="12" fill="#fbfbfb" stroke="#d8d8d8" stroke-width="0.5"/>
<text x="888.8" y="27.3" font-size="8" fill="#111" textLength="18.7" lengthAdjust="spacingAndGlyphs" >6 mesi</text>
<rect x="923.5" y="19.5" width="10.5" height="10.5" fill="#ecebe6" stroke="#d4d2c8" stroke-width="0.5"/>
<rect x="926.5" y="21.7" width="5" height="1" fill="#222"/>
<rect x="926.5" y="23.5" width="5" height="1" fill="#222"/>
<polygon points="926.2,25 931.8,25 929.0,28" fill="#222"/>
<rect x="937" y="18.5" width="56.5" height="12" fill="#fbfbfb" stroke="#d8d8d8" stroke-width="0.5"/>
<text x="939.3" y="27.3" font-size="8" fill="#111" textLength="13.4" lengthAdjust="spacingAndGlyphs" >1 ora</text>
<rect x="982.0" y="19.5" width="10.5" height="10.5" fill="#ecebe6" stroke="#d4d2c8" stroke-width="0.5"/>
<rect x="985.0" y="21.7" width="5" height="1" fill="#222"/>
<rect x="985.0" y="23.5" width="5" height="1" fill="#222"/>
<polygon points="984.7,25 990.3,25 987.5,28" fill="#222"/>
<rect x="1022" y="18" width="2" height="490" fill="#2a6fb0"/>
</svg>
</body></html>
